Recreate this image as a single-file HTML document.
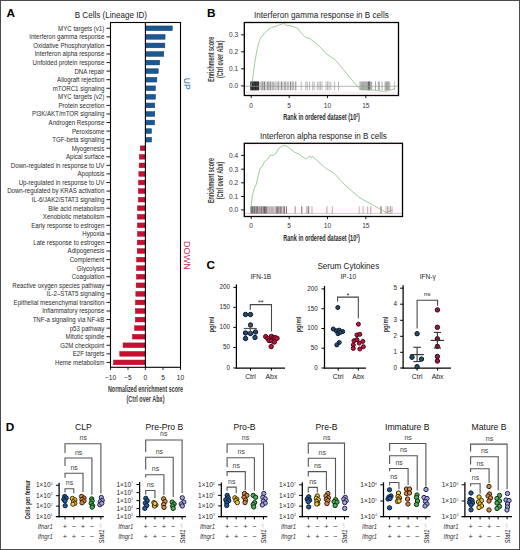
<!DOCTYPE html>
<html><head><meta charset="utf-8"><style>
html,body{margin:0;padding:0;background:#fff;overflow:hidden;}
svg{display:block;font-family:"Liberation Sans", sans-serif;}
</style></head><body>
<svg width="520" height="550" viewBox="0 0 520 550">
<rect x="0" y="0" width="520" height="550" fill="#fff"/>
<text x="6.60" y="16.80" font-size="11.8" text-anchor="start" fill="#000" font-weight="bold" >A</text>
<text x="74.70" y="17.50" font-size="8.8" text-anchor="start" fill="#1a1a1a" textLength="72.3" lengthAdjust="spacingAndGlyphs" >B Cells (Lineage ID)</text>
<rect x="145.65" y="25.95" width="26.60" height="4.70" fill="#1a5894" stroke="#0f3d6b" stroke-width="0.5"/>
<line x1="106.50" y1="28.30" x2="110.50" y2="28.30" stroke="#000" stroke-width="0.9" />
<text x="0" y="0" font-size="7" text-anchor="end" fill="#2b2b2b" transform="translate(104.3 30.70) scale(0.875 1)">MYC targets (v1)</text>
<rect x="145.65" y="34.52" width="19.40" height="4.70" fill="#1a5894" stroke="#0f3d6b" stroke-width="0.5"/>
<line x1="106.50" y1="36.87" x2="110.50" y2="36.87" stroke="#000" stroke-width="0.9" />
<text x="0" y="0" font-size="7" text-anchor="end" fill="#2b2b2b" transform="translate(104.3 39.27) scale(0.875 1)">Interferon gamma response</text>
<rect x="145.65" y="43.08" width="19.20" height="4.70" fill="#1a5894" stroke="#0f3d6b" stroke-width="0.5"/>
<line x1="106.50" y1="45.43" x2="110.50" y2="45.43" stroke="#000" stroke-width="0.9" />
<text x="0" y="0" font-size="7" text-anchor="end" fill="#2b2b2b" transform="translate(104.3 47.83) scale(0.875 1)">Oxidative Phosphorylation</text>
<rect x="145.65" y="51.65" width="18.10" height="4.70" fill="#1a5894" stroke="#0f3d6b" stroke-width="0.5"/>
<line x1="106.50" y1="54.00" x2="110.50" y2="54.00" stroke="#000" stroke-width="0.9" />
<text x="0" y="0" font-size="7" text-anchor="end" fill="#2b2b2b" transform="translate(104.3 56.40) scale(0.875 1)">Interferon alpha response</text>
<rect x="145.65" y="60.22" width="14.00" height="4.70" fill="#1a5894" stroke="#0f3d6b" stroke-width="0.5"/>
<line x1="106.50" y1="62.57" x2="110.50" y2="62.57" stroke="#000" stroke-width="0.9" />
<text x="0" y="0" font-size="7" text-anchor="end" fill="#2b2b2b" transform="translate(104.3 64.97) scale(0.875 1)">Unfolded protein response</text>
<rect x="145.65" y="68.78" width="12.60" height="4.70" fill="#1a5894" stroke="#0f3d6b" stroke-width="0.5"/>
<line x1="106.50" y1="71.13" x2="110.50" y2="71.13" stroke="#000" stroke-width="0.9" />
<text x="0" y="0" font-size="7" text-anchor="end" fill="#2b2b2b" transform="translate(104.3 73.53) scale(0.875 1)">DNA repair</text>
<rect x="145.65" y="77.35" width="11.20" height="4.70" fill="#1a5894" stroke="#0f3d6b" stroke-width="0.5"/>
<line x1="106.50" y1="79.70" x2="110.50" y2="79.70" stroke="#000" stroke-width="0.9" />
<text x="0" y="0" font-size="7" text-anchor="end" fill="#2b2b2b" transform="translate(104.3 82.10) scale(0.875 1)">Allograft rejection</text>
<rect x="145.65" y="85.92" width="9.80" height="4.70" fill="#1a5894" stroke="#0f3d6b" stroke-width="0.5"/>
<line x1="106.50" y1="88.27" x2="110.50" y2="88.27" stroke="#000" stroke-width="0.9" />
<text x="0" y="0" font-size="7" text-anchor="end" fill="#2b2b2b" transform="translate(104.3 90.67) scale(0.875 1)">mTORC1 signaling</text>
<rect x="145.65" y="94.48" width="9.80" height="4.70" fill="#1a5894" stroke="#0f3d6b" stroke-width="0.5"/>
<line x1="106.50" y1="96.83" x2="110.50" y2="96.83" stroke="#000" stroke-width="0.9" />
<text x="0" y="0" font-size="7" text-anchor="end" fill="#2b2b2b" transform="translate(104.3 99.23) scale(0.875 1)">MYC targets (v2)</text>
<rect x="145.65" y="103.05" width="9.10" height="4.70" fill="#1a5894" stroke="#0f3d6b" stroke-width="0.5"/>
<line x1="106.50" y1="105.40" x2="110.50" y2="105.40" stroke="#000" stroke-width="0.9" />
<text x="0" y="0" font-size="7" text-anchor="end" fill="#2b2b2b" transform="translate(104.3 107.80) scale(0.875 1)">Protein secretion</text>
<rect x="145.65" y="111.62" width="9.10" height="4.70" fill="#1a5894" stroke="#0f3d6b" stroke-width="0.5"/>
<line x1="106.50" y1="113.97" x2="110.50" y2="113.97" stroke="#000" stroke-width="0.9" />
<text x="0" y="0" font-size="7" text-anchor="end" fill="#2b2b2b" transform="translate(104.3 116.37) scale(0.875 1)">PI3K/AKT/mTOR signaling</text>
<rect x="145.65" y="120.18" width="8.90" height="4.70" fill="#1a5894" stroke="#0f3d6b" stroke-width="0.5"/>
<line x1="106.50" y1="122.53" x2="110.50" y2="122.53" stroke="#000" stroke-width="0.9" />
<text x="0" y="0" font-size="7" text-anchor="end" fill="#2b2b2b" transform="translate(104.3 124.93) scale(0.875 1)">Androgen Response</text>
<rect x="145.65" y="128.75" width="5.90" height="4.70" fill="#1a5894" stroke="#0f3d6b" stroke-width="0.5"/>
<line x1="106.50" y1="131.10" x2="110.50" y2="131.10" stroke="#000" stroke-width="0.9" />
<text x="0" y="0" font-size="7" text-anchor="end" fill="#2b2b2b" transform="translate(104.3 133.50) scale(0.875 1)">Peroxisome</text>
<rect x="145.65" y="137.32" width="5.90" height="4.70" fill="#1a5894" stroke="#0f3d6b" stroke-width="0.5"/>
<line x1="106.50" y1="139.67" x2="110.50" y2="139.67" stroke="#000" stroke-width="0.9" />
<text x="0" y="0" font-size="7" text-anchor="end" fill="#2b2b2b" transform="translate(104.3 142.07) scale(0.875 1)">TGF-beta signaling</text>
<rect x="140.25" y="145.88" width="4.90" height="4.70" fill="#c8102e" stroke="#a80c28" stroke-width="0.5"/>
<line x1="106.50" y1="148.23" x2="110.50" y2="148.23" stroke="#000" stroke-width="0.9" />
<text x="0" y="0" font-size="7" text-anchor="end" fill="#2b2b2b" transform="translate(104.3 150.63) scale(0.875 1)">Myogenesis</text>
<rect x="139.45" y="154.45" width="5.70" height="4.70" fill="#c8102e" stroke="#a80c28" stroke-width="0.5"/>
<line x1="106.50" y1="156.80" x2="110.50" y2="156.80" stroke="#000" stroke-width="0.9" />
<text x="0" y="0" font-size="7" text-anchor="end" fill="#2b2b2b" transform="translate(104.3 159.20) scale(0.875 1)">Apical surface</text>
<rect x="139.15" y="163.02" width="6.00" height="4.70" fill="#c8102e" stroke="#a80c28" stroke-width="0.5"/>
<line x1="106.50" y1="165.37" x2="110.50" y2="165.37" stroke="#000" stroke-width="0.9" />
<text x="0" y="0" font-size="7" text-anchor="end" fill="#2b2b2b" transform="translate(104.3 167.77) scale(0.875 1)">Down-regulated in response to UV</text>
<rect x="138.85" y="171.58" width="6.30" height="4.70" fill="#c8102e" stroke="#a80c28" stroke-width="0.5"/>
<line x1="106.50" y1="173.93" x2="110.50" y2="173.93" stroke="#000" stroke-width="0.9" />
<text x="0" y="0" font-size="7" text-anchor="end" fill="#2b2b2b" transform="translate(104.3 176.33) scale(0.875 1)">Apoptosis</text>
<rect x="138.55" y="180.15" width="6.60" height="4.70" fill="#c8102e" stroke="#a80c28" stroke-width="0.5"/>
<line x1="106.50" y1="182.50" x2="110.50" y2="182.50" stroke="#000" stroke-width="0.9" />
<text x="0" y="0" font-size="7" text-anchor="end" fill="#2b2b2b" transform="translate(104.3 184.90) scale(0.875 1)">Up-regulated in response to UV</text>
<rect x="138.35" y="188.72" width="6.80" height="4.70" fill="#c8102e" stroke="#a80c28" stroke-width="0.5"/>
<line x1="106.50" y1="191.07" x2="110.50" y2="191.07" stroke="#000" stroke-width="0.9" />
<text x="0" y="0" font-size="7" text-anchor="end" fill="#2b2b2b" transform="translate(104.3 193.47) scale(0.875 1)">Down-regulated by KRAS activation</text>
<rect x="138.35" y="197.28" width="6.80" height="4.70" fill="#c8102e" stroke="#a80c28" stroke-width="0.5"/>
<line x1="106.50" y1="199.63" x2="110.50" y2="199.63" stroke="#000" stroke-width="0.9" />
<text x="0" y="0" font-size="7" text-anchor="end" fill="#2b2b2b" transform="translate(104.3 202.03) scale(0.875 1)">IL-6/JAK2/STAT3 signaling</text>
<rect x="137.45" y="205.85" width="7.70" height="4.70" fill="#c8102e" stroke="#a80c28" stroke-width="0.5"/>
<line x1="106.50" y1="208.20" x2="110.50" y2="208.20" stroke="#000" stroke-width="0.9" />
<text x="0" y="0" font-size="7" text-anchor="end" fill="#2b2b2b" transform="translate(104.3 210.60) scale(0.875 1)">Bile acid metabolism</text>
<rect x="137.45" y="214.42" width="7.70" height="4.70" fill="#c8102e" stroke="#a80c28" stroke-width="0.5"/>
<line x1="106.50" y1="216.77" x2="110.50" y2="216.77" stroke="#000" stroke-width="0.9" />
<text x="0" y="0" font-size="7" text-anchor="end" fill="#2b2b2b" transform="translate(104.3 219.17) scale(0.875 1)">Xenobiotic metabolism</text>
<rect x="137.45" y="222.98" width="7.70" height="4.70" fill="#c8102e" stroke="#a80c28" stroke-width="0.5"/>
<line x1="106.50" y1="225.33" x2="110.50" y2="225.33" stroke="#000" stroke-width="0.9" />
<text x="0" y="0" font-size="7" text-anchor="end" fill="#2b2b2b" transform="translate(104.3 227.73) scale(0.875 1)">Early response to estrogen</text>
<rect x="137.45" y="231.55" width="7.70" height="4.70" fill="#c8102e" stroke="#a80c28" stroke-width="0.5"/>
<line x1="106.50" y1="233.90" x2="110.50" y2="233.90" stroke="#000" stroke-width="0.9" />
<text x="0" y="0" font-size="7" text-anchor="end" fill="#2b2b2b" transform="translate(104.3 236.30) scale(0.875 1)">Hypoxia</text>
<rect x="137.25" y="240.12" width="7.90" height="4.70" fill="#c8102e" stroke="#a80c28" stroke-width="0.5"/>
<line x1="106.50" y1="242.47" x2="110.50" y2="242.47" stroke="#000" stroke-width="0.9" />
<text x="0" y="0" font-size="7" text-anchor="end" fill="#2b2b2b" transform="translate(104.3 244.87) scale(0.875 1)">Late response to estrogen</text>
<rect x="137.25" y="248.68" width="7.90" height="4.70" fill="#c8102e" stroke="#a80c28" stroke-width="0.5"/>
<line x1="106.50" y1="251.03" x2="110.50" y2="251.03" stroke="#000" stroke-width="0.9" />
<text x="0" y="0" font-size="7" text-anchor="end" fill="#2b2b2b" transform="translate(104.3 253.43) scale(0.875 1)">Adipogenesis</text>
<rect x="136.65" y="257.25" width="8.50" height="4.70" fill="#c8102e" stroke="#a80c28" stroke-width="0.5"/>
<line x1="106.50" y1="259.60" x2="110.50" y2="259.60" stroke="#000" stroke-width="0.9" />
<text x="0" y="0" font-size="7" text-anchor="end" fill="#2b2b2b" transform="translate(104.3 262.00) scale(0.875 1)">Complement</text>
<rect x="136.45" y="265.82" width="8.70" height="4.70" fill="#c8102e" stroke="#a80c28" stroke-width="0.5"/>
<line x1="106.50" y1="268.17" x2="110.50" y2="268.17" stroke="#000" stroke-width="0.9" />
<text x="0" y="0" font-size="7" text-anchor="end" fill="#2b2b2b" transform="translate(104.3 270.57) scale(0.875 1)">Glycolysis</text>
<rect x="136.45" y="274.38" width="8.70" height="4.70" fill="#c8102e" stroke="#a80c28" stroke-width="0.5"/>
<line x1="106.50" y1="276.73" x2="110.50" y2="276.73" stroke="#000" stroke-width="0.9" />
<text x="0" y="0" font-size="7" text-anchor="end" fill="#2b2b2b" transform="translate(104.3 279.13) scale(0.875 1)">Coagulation</text>
<rect x="136.15" y="282.95" width="9.00" height="4.70" fill="#c8102e" stroke="#a80c28" stroke-width="0.5"/>
<line x1="106.50" y1="285.30" x2="110.50" y2="285.30" stroke="#000" stroke-width="0.9" />
<text x="0" y="0" font-size="7" text-anchor="end" fill="#2b2b2b" transform="translate(104.3 287.70) scale(0.875 1)">Reactive oxygen species pathway</text>
<rect x="135.85" y="291.52" width="9.30" height="4.70" fill="#c8102e" stroke="#a80c28" stroke-width="0.5"/>
<line x1="106.50" y1="293.87" x2="110.50" y2="293.87" stroke="#000" stroke-width="0.9" />
<text x="0" y="0" font-size="7" text-anchor="end" fill="#2b2b2b" transform="translate(104.3 296.27) scale(0.875 1)">IL-2–STAT5 signaling</text>
<rect x="135.55" y="300.08" width="9.60" height="4.70" fill="#c8102e" stroke="#a80c28" stroke-width="0.5"/>
<line x1="106.50" y1="302.43" x2="110.50" y2="302.43" stroke="#000" stroke-width="0.9" />
<text x="0" y="0" font-size="7" text-anchor="end" fill="#2b2b2b" transform="translate(104.3 304.83) scale(0.875 1)">Epithelial mesenchymal transition</text>
<rect x="135.35" y="308.65" width="9.80" height="4.70" fill="#c8102e" stroke="#a80c28" stroke-width="0.5"/>
<line x1="106.50" y1="311.00" x2="110.50" y2="311.00" stroke="#000" stroke-width="0.9" />
<text x="0" y="0" font-size="7" text-anchor="end" fill="#2b2b2b" transform="translate(104.3 313.40) scale(0.875 1)">Inflammatory response</text>
<rect x="135.35" y="317.22" width="9.80" height="4.70" fill="#c8102e" stroke="#a80c28" stroke-width="0.5"/>
<line x1="106.50" y1="319.57" x2="110.50" y2="319.57" stroke="#000" stroke-width="0.9" />
<text x="0" y="0" font-size="7" text-anchor="end" fill="#2b2b2b" transform="translate(104.3 321.97) scale(0.875 1)">TNF-a signaling via NF-kB</text>
<rect x="134.55" y="325.78" width="10.60" height="4.70" fill="#c8102e" stroke="#a80c28" stroke-width="0.5"/>
<line x1="106.50" y1="328.13" x2="110.50" y2="328.13" stroke="#000" stroke-width="0.9" />
<text x="0" y="0" font-size="7" text-anchor="end" fill="#2b2b2b" transform="translate(104.3 330.53) scale(0.875 1)">p53 pathway</text>
<rect x="132.45" y="334.35" width="12.70" height="4.70" fill="#c8102e" stroke="#a80c28" stroke-width="0.5"/>
<line x1="106.50" y1="336.70" x2="110.50" y2="336.70" stroke="#000" stroke-width="0.9" />
<text x="0" y="0" font-size="7" text-anchor="end" fill="#2b2b2b" transform="translate(104.3 339.10) scale(0.875 1)">Mitotic spindle</text>
<rect x="123.05" y="342.92" width="22.10" height="4.70" fill="#c8102e" stroke="#a80c28" stroke-width="0.5"/>
<line x1="106.50" y1="345.27" x2="110.50" y2="345.27" stroke="#000" stroke-width="0.9" />
<text x="0" y="0" font-size="7" text-anchor="end" fill="#2b2b2b" transform="translate(104.3 347.67) scale(0.875 1)">G2M checkpoint</text>
<rect x="119.75" y="351.48" width="25.40" height="4.70" fill="#c8102e" stroke="#a80c28" stroke-width="0.5"/>
<line x1="106.50" y1="353.83" x2="110.50" y2="353.83" stroke="#000" stroke-width="0.9" />
<text x="0" y="0" font-size="7" text-anchor="end" fill="#2b2b2b" transform="translate(104.3 356.23) scale(0.875 1)">E2F targets</text>
<rect x="113.55" y="360.05" width="31.60" height="4.70" fill="#c8102e" stroke="#a80c28" stroke-width="0.5"/>
<line x1="106.50" y1="362.40" x2="110.50" y2="362.40" stroke="#000" stroke-width="0.9" />
<text x="0" y="0" font-size="7" text-anchor="end" fill="#2b2b2b" transform="translate(104.3 364.80) scale(0.875 1)">Heme metabolism</text>
<rect x="110.50" y="22.50" width="70.00" height="344.80" fill="none" stroke="#000" stroke-width="1.1"/>
<line x1="145.40" y1="22.50" x2="145.40" y2="367.30" stroke="#000" stroke-width="1.1" />
<line x1="110.60" y1="367.30" x2="110.60" y2="369.90" stroke="#000" stroke-width="0.9" />
<text x="110.60" y="379.80" font-size="6.6" text-anchor="middle" fill="#1a1a1a" >−10</text>
<line x1="128.00" y1="367.30" x2="128.00" y2="369.90" stroke="#000" stroke-width="0.9" />
<text x="128.00" y="379.80" font-size="6.6" text-anchor="middle" fill="#1a1a1a" >−5</text>
<line x1="145.40" y1="367.30" x2="145.40" y2="369.90" stroke="#000" stroke-width="0.9" />
<text x="145.40" y="379.80" font-size="6.6" text-anchor="middle" fill="#1a1a1a" >0</text>
<line x1="163.00" y1="367.30" x2="163.00" y2="369.90" stroke="#000" stroke-width="0.9" />
<text x="163.00" y="379.80" font-size="6.6" text-anchor="middle" fill="#1a1a1a" >5</text>
<line x1="180.50" y1="367.30" x2="180.50" y2="369.90" stroke="#000" stroke-width="0.9" />
<text x="180.50" y="379.80" font-size="6.6" text-anchor="middle" fill="#1a1a1a" >10</text>
<text x="145.50" y="392.20" font-size="8.8" text-anchor="middle" fill="#3a3a3a" font-weight="bold" textLength="75" lengthAdjust="spacingAndGlyphs" >Normalized enrichment score</text>
<text x="145.50" y="401.60" font-size="8.8" text-anchor="middle" fill="#3a3a3a" font-weight="bold" textLength="38" lengthAdjust="spacingAndGlyphs" >(Ctrl over Abx)</text>
<text x="183.90" y="83.80" font-size="9.2" text-anchor="middle" fill="#2f6aa3" textLength="12.0" lengthAdjust="spacingAndGlyphs" transform="rotate(90 183.90 83.80)" >UP</text>
<text x="184.10" y="255.50" font-size="9.2" text-anchor="middle" fill="#c8304e" textLength="29.0" lengthAdjust="spacingAndGlyphs" transform="rotate(90 184.10 255.50)" >DOWN</text>
<text x="207.10" y="16.90" font-size="11.8" text-anchor="start" fill="#000" font-weight="bold" >B</text>
<text x="254.00" y="17.50" font-size="8.5" text-anchor="start" fill="#1a1a1a" textLength="134.8" lengthAdjust="spacingAndGlyphs" >Interferon gamma response in B cells</text>
<line x1="250.70" y1="81.50" x2="250.70" y2="90.30" stroke="#000" stroke-width="0.7" stroke-opacity="1.0"/>
<line x1="251.30" y1="81.50" x2="251.30" y2="90.30" stroke="#000" stroke-width="0.7" stroke-opacity="1.0"/>
<line x1="251.90" y1="81.50" x2="251.90" y2="90.30" stroke="#000" stroke-width="0.7" stroke-opacity="1.0"/>
<line x1="252.50" y1="81.50" x2="252.50" y2="90.30" stroke="#000" stroke-width="0.7" stroke-opacity="1.0"/>
<line x1="253.10" y1="81.50" x2="253.10" y2="90.30" stroke="#000" stroke-width="0.7" stroke-opacity="1.0"/>
<line x1="253.70" y1="81.50" x2="253.70" y2="90.30" stroke="#000" stroke-width="0.7" stroke-opacity="1.0"/>
<line x1="254.30" y1="81.50" x2="254.30" y2="90.30" stroke="#000" stroke-width="0.7" stroke-opacity="1.0"/>
<line x1="254.90" y1="81.50" x2="254.90" y2="90.30" stroke="#000" stroke-width="0.7" stroke-opacity="1.0"/>
<line x1="255.50" y1="81.50" x2="255.50" y2="90.30" stroke="#000" stroke-width="0.7" stroke-opacity="1.0"/>
<line x1="256.10" y1="81.50" x2="256.10" y2="90.30" stroke="#000" stroke-width="0.7" stroke-opacity="1.0"/>
<line x1="256.70" y1="81.50" x2="256.70" y2="90.30" stroke="#000" stroke-width="0.7" stroke-opacity="1.0"/>
<line x1="257.30" y1="81.50" x2="257.30" y2="90.30" stroke="#000" stroke-width="0.7" stroke-opacity="1.0"/>
<line x1="257.90" y1="81.50" x2="257.90" y2="90.30" stroke="#000" stroke-width="0.7" stroke-opacity="1.0"/>
<line x1="258.50" y1="81.50" x2="258.50" y2="90.30" stroke="#000" stroke-width="0.7" stroke-opacity="1.0"/>
<line x1="258.60" y1="81.50" x2="258.60" y2="90.30" stroke="#000" stroke-width="0.7" stroke-opacity="0.19377202312308306"/>
<line x1="259.47" y1="81.50" x2="259.47" y2="90.30" stroke="#000" stroke-width="0.7" stroke-opacity="0.21933223752898895"/>
<line x1="260.37" y1="81.50" x2="260.37" y2="90.30" stroke="#000" stroke-width="0.7" stroke-opacity="0.26995091632141793"/>
<line x1="261.01" y1="81.50" x2="261.01" y2="90.30" stroke="#000" stroke-width="0.7" stroke-opacity="0.14071182595861212"/>
<line x1="262.03" y1="81.50" x2="262.03" y2="90.30" stroke="#000" stroke-width="0.7" stroke-opacity="0.18883717386818868"/>
<line x1="262.74" y1="81.50" x2="262.74" y2="90.30" stroke="#000" stroke-width="0.7" stroke-opacity="0.3354075552810862"/>
<line x1="263.58" y1="81.50" x2="263.58" y2="90.30" stroke="#000" stroke-width="0.7" stroke-opacity="0.29952290999571"/>
<line x1="264.42" y1="81.50" x2="264.42" y2="90.30" stroke="#000" stroke-width="0.7" stroke-opacity="0.2569057489512767"/>
<line x1="265.09" y1="81.50" x2="265.09" y2="90.30" stroke="#000" stroke-width="0.7" stroke-opacity="0.2534411227285907"/>
<line x1="266.13" y1="81.50" x2="266.13" y2="90.30" stroke="#000" stroke-width="0.7" stroke-opacity="0.2280032490569578"/>
<line x1="267.10" y1="81.50" x2="267.10" y2="90.30" stroke="#000" stroke-width="0.7" stroke-opacity="0.25251138533993434"/>
<line x1="267.73" y1="81.50" x2="267.73" y2="90.30" stroke="#000" stroke-width="0.7" stroke-opacity="0.266193456392942"/>
<line x1="268.62" y1="81.50" x2="268.62" y2="90.30" stroke="#000" stroke-width="0.7" stroke-opacity="0.17822506098557353"/>
<line x1="269.24" y1="81.50" x2="269.24" y2="90.30" stroke="#000" stroke-width="0.7" stroke-opacity="0.2792925537389939"/>
<line x1="270.08" y1="81.50" x2="270.08" y2="90.30" stroke="#000" stroke-width="0.7" stroke-opacity="0.24907469984840633"/>
<line x1="271.11" y1="81.50" x2="271.11" y2="90.30" stroke="#000" stroke-width="0.7" stroke-opacity="0.24392513808789534"/>
<line x1="272.18" y1="81.50" x2="272.18" y2="90.30" stroke="#000" stroke-width="0.7" stroke-opacity="0.18416498376368753"/>
<line x1="273.18" y1="81.50" x2="273.18" y2="90.30" stroke="#000" stroke-width="0.7" stroke-opacity="0.18944390645780565"/>
<line x1="274.24" y1="81.50" x2="274.24" y2="90.30" stroke="#000" stroke-width="0.7" stroke-opacity="0.2585198744470971"/>
<line x1="274.89" y1="81.50" x2="274.89" y2="90.30" stroke="#000" stroke-width="0.7" stroke-opacity="0.13269399891128156"/>
<line x1="275.60" y1="81.50" x2="275.60" y2="90.30" stroke="#000" stroke-width="0.7" stroke-opacity="0.26636207785073146"/>
<line x1="276.42" y1="81.50" x2="276.42" y2="90.30" stroke="#000" stroke-width="0.7" stroke-opacity="0.2078915000223316"/>
<line x1="277.17" y1="81.50" x2="277.17" y2="90.30" stroke="#000" stroke-width="0.7" stroke-opacity="0.18605481299678425"/>
<line x1="277.96" y1="81.50" x2="277.96" y2="90.30" stroke="#000" stroke-width="0.7" stroke-opacity="0.15885681457587827"/>
<line x1="278.85" y1="81.50" x2="278.85" y2="90.30" stroke="#000" stroke-width="0.7" stroke-opacity="0.19193490469770866"/>
<line x1="279.91" y1="81.50" x2="279.91" y2="90.30" stroke="#000" stroke-width="0.7" stroke-opacity="0.20267343421274023"/>
<line x1="280.97" y1="81.50" x2="280.97" y2="90.30" stroke="#000" stroke-width="0.7" stroke-opacity="0.22402104988785146"/>
<line x1="282.07" y1="81.50" x2="282.07" y2="90.30" stroke="#000" stroke-width="0.7" stroke-opacity="0.19239443601100342"/>
<line x1="282.75" y1="81.50" x2="282.75" y2="90.30" stroke="#000" stroke-width="0.7" stroke-opacity="0.2165019829060724"/>
<line x1="283.83" y1="81.50" x2="283.83" y2="90.30" stroke="#000" stroke-width="0.7" stroke-opacity="0.2176453240957041"/>
<line x1="284.72" y1="81.50" x2="284.72" y2="90.30" stroke="#000" stroke-width="0.7" stroke-opacity="0.18754384274441088"/>
<line x1="285.42" y1="81.50" x2="285.42" y2="90.30" stroke="#000" stroke-width="0.7" stroke-opacity="0.20037479686031118"/>
<line x1="286.31" y1="81.50" x2="286.31" y2="90.30" stroke="#000" stroke-width="0.7" stroke-opacity="0.12473578173312323"/>
<line x1="286.94" y1="81.50" x2="286.94" y2="90.30" stroke="#000" stroke-width="0.7" stroke-opacity="0.19643463548668053"/>
<line x1="288.03" y1="81.50" x2="288.03" y2="90.30" stroke="#000" stroke-width="0.7" stroke-opacity="0.09507536959509368"/>
<line x1="289.03" y1="81.50" x2="289.03" y2="90.30" stroke="#000" stroke-width="0.7" stroke-opacity="0.13237471880534912"/>
<line x1="289.71" y1="81.50" x2="289.71" y2="90.30" stroke="#000" stroke-width="0.7" stroke-opacity="0.1161024351770574"/>
<line x1="290.69" y1="81.50" x2="290.69" y2="90.30" stroke="#000" stroke-width="0.7" stroke-opacity="0.18152479317302297"/>
<line x1="291.32" y1="81.50" x2="291.32" y2="90.30" stroke="#000" stroke-width="0.7" stroke-opacity="0.14868357536457488"/>
<line x1="291.94" y1="81.50" x2="291.94" y2="90.30" stroke="#000" stroke-width="0.7" stroke-opacity="0.1581555625499055"/>
<line x1="292.70" y1="81.50" x2="292.70" y2="90.30" stroke="#000" stroke-width="0.7" stroke-opacity="0.1731523767801113"/>
<line x1="293.79" y1="81.50" x2="293.79" y2="90.30" stroke="#000" stroke-width="0.7" stroke-opacity="0.1273068478542771"/>
<line x1="294.89" y1="81.50" x2="294.89" y2="90.30" stroke="#000" stroke-width="0.7" stroke-opacity="0.10282559677018183"/>
<line x1="295.53" y1="81.50" x2="295.53" y2="90.30" stroke="#000" stroke-width="0.7" stroke-opacity="0.13095172606167138"/>
<line x1="296.15" y1="81.50" x2="296.15" y2="90.30" stroke="#000" stroke-width="0.7" stroke-opacity="0.08774895782015954"/>
<line x1="262.00" y1="81.50" x2="262.00" y2="90.30" stroke="#000" stroke-width="0.7" stroke-opacity="0.5"/>
<line x1="264.50" y1="81.50" x2="264.50" y2="90.30" stroke="#000" stroke-width="0.7" stroke-opacity="0.5"/>
<line x1="268.00" y1="81.50" x2="268.00" y2="90.30" stroke="#000" stroke-width="0.7" stroke-opacity="0.5"/>
<line x1="270.60" y1="81.50" x2="270.60" y2="90.30" stroke="#000" stroke-width="0.7" stroke-opacity="0.5"/>
<line x1="273.00" y1="81.50" x2="273.00" y2="90.30" stroke="#000" stroke-width="0.7" stroke-opacity="0.5"/>
<line x1="278.30" y1="81.50" x2="278.30" y2="90.30" stroke="#000" stroke-width="0.7" stroke-opacity="0.5"/>
<line x1="281.50" y1="81.50" x2="281.50" y2="90.30" stroke="#000" stroke-width="0.7" stroke-opacity="0.5"/>
<line x1="285.00" y1="81.50" x2="285.00" y2="90.30" stroke="#000" stroke-width="0.7" stroke-opacity="0.5"/>
<line x1="288.00" y1="81.50" x2="288.00" y2="90.30" stroke="#000" stroke-width="0.7" stroke-opacity="0.5"/>
<line x1="290.50" y1="81.50" x2="290.50" y2="90.30" stroke="#000" stroke-width="0.7" stroke-opacity="0.5"/>
<line x1="293.00" y1="81.50" x2="293.00" y2="90.30" stroke="#000" stroke-width="0.7" stroke-opacity="0.5"/>
<line x1="295.80" y1="81.50" x2="295.80" y2="90.30" stroke="#000" stroke-width="0.7" stroke-opacity="0.5"/>
<line x1="301.20" y1="81.50" x2="301.20" y2="90.30" stroke="#000" stroke-width="0.7" stroke-opacity="0.4"/>
<line x1="305.80" y1="81.50" x2="305.80" y2="90.30" stroke="#000" stroke-width="0.7" stroke-opacity="0.4"/>
<line x1="307.30" y1="81.50" x2="307.30" y2="90.30" stroke="#000" stroke-width="0.7" stroke-opacity="0.4"/>
<line x1="309.60" y1="81.50" x2="309.60" y2="90.30" stroke="#000" stroke-width="0.7" stroke-opacity="0.4"/>
<line x1="312.70" y1="81.50" x2="312.70" y2="90.30" stroke="#000" stroke-width="0.7" stroke-opacity="0.4"/>
<line x1="314.20" y1="81.50" x2="314.20" y2="90.30" stroke="#000" stroke-width="0.7" stroke-opacity="0.4"/>
<line x1="317.30" y1="81.50" x2="317.30" y2="90.30" stroke="#000" stroke-width="0.7" stroke-opacity="0.4"/>
<line x1="319.00" y1="81.50" x2="319.00" y2="90.30" stroke="#000" stroke-width="0.7" stroke-opacity="0.4"/>
<line x1="320.40" y1="81.50" x2="320.40" y2="90.30" stroke="#000" stroke-width="0.7" stroke-opacity="0.4"/>
<line x1="322.00" y1="81.50" x2="322.00" y2="90.30" stroke="#000" stroke-width="0.7" stroke-opacity="0.4"/>
<line x1="326.00" y1="81.50" x2="326.00" y2="90.30" stroke="#000" stroke-width="0.7" stroke-opacity="0.4"/>
<line x1="327.50" y1="81.50" x2="327.50" y2="90.30" stroke="#000" stroke-width="0.7" stroke-opacity="0.4"/>
<line x1="329.00" y1="81.50" x2="329.00" y2="90.30" stroke="#000" stroke-width="0.7" stroke-opacity="0.4"/>
<line x1="330.80" y1="81.50" x2="330.80" y2="90.30" stroke="#000" stroke-width="0.7" stroke-opacity="0.4"/>
<line x1="334.60" y1="81.50" x2="334.60" y2="90.30" stroke="#000" stroke-width="0.7" stroke-opacity="0.4"/>
<line x1="338.50" y1="81.50" x2="338.50" y2="90.30" stroke="#000" stroke-width="0.7" stroke-opacity="0.4"/>
<line x1="359.80" y1="81.50" x2="359.80" y2="90.30" stroke="#000" stroke-width="0.7" stroke-opacity="0.32209342459346835"/>
<line x1="360.40" y1="81.50" x2="360.40" y2="90.30" stroke="#000" stroke-width="0.7" stroke-opacity="0.23123979820271295"/>
<line x1="361.00" y1="81.50" x2="361.00" y2="90.30" stroke="#000" stroke-width="0.7" stroke-opacity="0.20848716494424085"/>
<line x1="361.60" y1="81.50" x2="361.60" y2="90.30" stroke="#000" stroke-width="0.7" stroke-opacity="0.3735558067855445"/>
<line x1="362.20" y1="81.50" x2="362.20" y2="90.30" stroke="#000" stroke-width="0.7" stroke-opacity="0.26276610398321837"/>
<line x1="362.80" y1="81.50" x2="362.80" y2="90.30" stroke="#000" stroke-width="0.7" stroke-opacity="0.391731885281691"/>
<line x1="363.40" y1="81.50" x2="363.40" y2="90.30" stroke="#000" stroke-width="0.7" stroke-opacity="0.3793319282855203"/>
<line x1="364.00" y1="81.50" x2="364.00" y2="90.30" stroke="#000" stroke-width="0.7" stroke-opacity="0.27555784788243654"/>
<line x1="364.60" y1="81.50" x2="364.60" y2="90.30" stroke="#000" stroke-width="0.7" stroke-opacity="0.29208192656918097"/>
<line x1="365.20" y1="81.50" x2="365.20" y2="90.30" stroke="#000" stroke-width="0.7" stroke-opacity="0.3040145969185128"/>
<line x1="365.80" y1="81.50" x2="365.80" y2="90.30" stroke="#000" stroke-width="0.7" stroke-opacity="0.3287777436775454"/>
<line x1="366.40" y1="81.50" x2="366.40" y2="90.30" stroke="#000" stroke-width="0.7" stroke-opacity="0.3191300476803941"/>
<line x1="367.00" y1="81.50" x2="367.00" y2="90.30" stroke="#000" stroke-width="0.7" stroke-opacity="0.31185221240307814"/>
<line x1="367.60" y1="81.50" x2="367.60" y2="90.30" stroke="#000" stroke-width="0.7" stroke-opacity="0.3240252270890524"/>
<line x1="368.20" y1="81.50" x2="368.20" y2="90.30" stroke="#000" stroke-width="0.7" stroke-opacity="0.38812425108479265"/>
<line x1="368.80" y1="81.50" x2="368.80" y2="90.30" stroke="#000" stroke-width="0.7" stroke-opacity="0.30140536318913197"/>
<line x1="369.40" y1="81.50" x2="369.40" y2="90.30" stroke="#000" stroke-width="0.7" stroke-opacity="0.28623831068618655"/>
<line x1="370.00" y1="81.50" x2="370.00" y2="90.30" stroke="#000" stroke-width="0.7" stroke-opacity="0.34406225042882765"/>
<line x1="370.60" y1="81.50" x2="370.60" y2="90.30" stroke="#000" stroke-width="0.7" stroke-opacity="0.24752712389295684"/>
<line x1="371.20" y1="81.50" x2="371.20" y2="90.30" stroke="#000" stroke-width="0.7" stroke-opacity="0.2602173722348299"/>
<line x1="371.80" y1="81.50" x2="371.80" y2="90.30" stroke="#000" stroke-width="0.7" stroke-opacity="0.3955594632897271"/>
<line x1="368.50" y1="81.50" x2="368.50" y2="90.30" stroke="#000" stroke-width="0.7" stroke-opacity="0.55"/>
<line x1="369.50" y1="81.50" x2="369.50" y2="90.30" stroke="#000" stroke-width="0.7" stroke-opacity="0.55"/>
<line x1="375.50" y1="81.50" x2="375.50" y2="90.30" stroke="#000" stroke-width="0.7" stroke-opacity="0.5"/>
<line x1="378.30" y1="81.50" x2="378.30" y2="90.30" stroke="#000" stroke-width="0.7" stroke-opacity="0.45"/>
<line x1="379.30" y1="81.50" x2="379.30" y2="90.30" stroke="#000" stroke-width="0.7" stroke-opacity="0.5"/>
<line x1="382.00" y1="81.50" x2="382.00" y2="90.30" stroke="#000" stroke-width="0.7" stroke-opacity="0.45"/>
<line x1="385.00" y1="81.50" x2="385.00" y2="90.30" stroke="#000" stroke-width="0.7" stroke-opacity="0.4"/>
<line x1="385.80" y1="81.50" x2="385.80" y2="90.30" stroke="#000" stroke-width="0.7" stroke-opacity="0.4"/>
<line x1="386.60" y1="81.50" x2="386.60" y2="90.30" stroke="#000" stroke-width="0.7" stroke-opacity="0.45"/>
<line x1="387.40" y1="81.50" x2="387.40" y2="90.30" stroke="#000" stroke-width="0.7" stroke-opacity="0.4"/>
<line x1="388.20" y1="81.50" x2="388.20" y2="90.30" stroke="#000" stroke-width="0.7" stroke-opacity="0.45"/>
<line x1="389.00" y1="81.50" x2="389.00" y2="90.30" stroke="#000" stroke-width="0.7" stroke-opacity="0.4"/>
<line x1="389.80" y1="81.50" x2="389.80" y2="90.30" stroke="#000" stroke-width="0.7" stroke-opacity="0.35"/>
<line x1="394.60" y1="81.50" x2="394.60" y2="90.30" stroke="#000" stroke-width="0.7" stroke-opacity="0.35"/>
<line x1="244.30" y1="86.30" x2="398.50" y2="86.30" stroke="#999" stroke-width="0.7" />
<line x1="244.30" y1="92.80" x2="398.50" y2="92.80" stroke="#eec0c8" stroke-width="0.5" />
<path d="M251.2,85.9 L252.5,80.0 L254.8,62.0 L257.1,49.7 L259.4,40.5 L261.7,36.6 L264.8,32.8 L267.1,31.2 L268.6,28.9 L271.7,27.4 L274.8,26.6 L278.0,25.5 L282.0,24.0 L284.0,23.5 L286.0,25.2 L290.0,25.8 L292.0,26.0 L295.0,27.2 L298.0,28.6 L300.0,31.5 L305.5,37.4 L310.2,38.9 L316.3,43.5 L320.0,46.9 L326.2,53.8 L335.4,60.0 L343.1,69.2 L350.8,78.5 L356.0,85.0 L360.0,88.6 L364.0,89.6 L370.0,89.8 L376.0,90.4 L382.0,91.2 L388.0,90.8 L392.0,89.5 L395.0,88.5" stroke="#86b886" stroke-width="0.75" fill="none" />
<rect x="244.30" y="22.50" width="154.20" height="73.00" fill="none" stroke="#000" stroke-width="1.3"/>
<line x1="241.00" y1="34.85" x2="244.30" y2="34.85" stroke="#000" stroke-width="0.9" />
<text x="238.20" y="37.15" font-size="6.6" text-anchor="end" fill="#333" >0.3</text>
<line x1="241.00" y1="51.80" x2="244.30" y2="51.80" stroke="#000" stroke-width="0.9" />
<text x="238.20" y="54.10" font-size="6.6" text-anchor="end" fill="#333" >0.2</text>
<line x1="241.00" y1="68.80" x2="244.30" y2="68.80" stroke="#000" stroke-width="0.9" />
<text x="238.20" y="71.10" font-size="6.6" text-anchor="end" fill="#333" >0.1</text>
<line x1="241.00" y1="85.90" x2="244.30" y2="85.90" stroke="#000" stroke-width="0.9" />
<text x="238.20" y="88.20" font-size="6.6" text-anchor="end" fill="#333" >0.0</text>
<line x1="251.20" y1="95.50" x2="251.20" y2="98.10" stroke="#000" stroke-width="0.9" />
<text x="251.20" y="107.80" font-size="6.6" text-anchor="middle" fill="#333" >0</text>
<line x1="289.20" y1="95.50" x2="289.20" y2="98.10" stroke="#000" stroke-width="0.9" />
<text x="289.20" y="107.80" font-size="6.6" text-anchor="middle" fill="#333" >5</text>
<line x1="327.50" y1="95.50" x2="327.50" y2="98.10" stroke="#000" stroke-width="0.9" />
<text x="327.50" y="107.80" font-size="6.6" text-anchor="middle" fill="#333" >10</text>
<line x1="365.80" y1="95.50" x2="365.80" y2="98.10" stroke="#000" stroke-width="0.9" />
<text x="365.80" y="107.80" font-size="6.6" text-anchor="middle" fill="#333" >15</text>
<text x="321.50" y="119.60" font-size="8.6" text-anchor="middle" fill="#2a2a2a" font-weight="bold" textLength="76.5" lengthAdjust="spacingAndGlyphs" >Rank in ordered dataset (10<tspan font-size="4.5" dy="-2.6">3</tspan><tspan dy="2.6">)</tspan></text>
<text x="213.80" y="59.30" font-size="8.6" text-anchor="middle" fill="#3a3a3a" font-weight="bold" textLength="45.0" lengthAdjust="spacingAndGlyphs" transform="rotate(-90 213.80 59.30)" >Enrichment score</text>
<text x="223.30" y="59.30" font-size="8.6" text-anchor="middle" fill="#3a3a3a" font-weight="bold" textLength="37.5" lengthAdjust="spacingAndGlyphs" transform="rotate(-90 223.30 59.30)" >(Ctrl over Abx)</text>
<text x="260.10" y="138.50" font-size="8.5" text-anchor="start" fill="#1a1a1a" textLength="126.8" lengthAdjust="spacingAndGlyphs" >Interferon alpha response in B cells</text>
<line x1="250.80" y1="206.30" x2="250.80" y2="213.80" stroke="#000" stroke-width="0.7" stroke-opacity="0.5761897767549093"/>
<line x1="251.60" y1="206.30" x2="251.60" y2="213.80" stroke="#000" stroke-width="0.7" stroke-opacity="0.629886193040248"/>
<line x1="252.30" y1="206.30" x2="252.30" y2="213.80" stroke="#000" stroke-width="0.7" stroke-opacity="0.8121052920118647"/>
<line x1="253.20" y1="206.30" x2="253.20" y2="213.80" stroke="#000" stroke-width="0.7" stroke-opacity="0.5828250350498867"/>
<line x1="254.00" y1="206.30" x2="254.00" y2="213.80" stroke="#000" stroke-width="0.7" stroke-opacity="0.6039206365311356"/>
<line x1="254.60" y1="206.30" x2="254.60" y2="213.80" stroke="#000" stroke-width="0.7" stroke-opacity="0.6436924144249485"/>
<line x1="255.50" y1="206.30" x2="255.50" y2="213.80" stroke="#000" stroke-width="0.7" stroke-opacity="0.4423301719274383"/>
<line x1="256.30" y1="206.30" x2="256.30" y2="213.80" stroke="#000" stroke-width="0.7" stroke-opacity="0.6059543195209027"/>
<line x1="257.00" y1="206.30" x2="257.00" y2="213.80" stroke="#000" stroke-width="0.7" stroke-opacity="0.6649413601084009"/>
<line x1="257.80" y1="206.30" x2="257.80" y2="213.80" stroke="#000" stroke-width="0.7" stroke-opacity="0.7464884362599763"/>
<line x1="258.60" y1="206.30" x2="258.60" y2="213.80" stroke="#000" stroke-width="0.7" stroke-opacity="0.3970617281146092"/>
<line x1="259.50" y1="206.30" x2="259.50" y2="213.80" stroke="#000" stroke-width="0.7" stroke-opacity="0.5017006313122627"/>
<line x1="260.40" y1="206.30" x2="260.40" y2="213.80" stroke="#000" stroke-width="0.7" stroke-opacity="0.3953352687459197"/>
<line x1="261.20" y1="206.30" x2="261.20" y2="213.80" stroke="#000" stroke-width="0.7" stroke-opacity="0.7548222671835887"/>
<line x1="262.00" y1="206.30" x2="262.00" y2="213.80" stroke="#000" stroke-width="0.7" stroke-opacity="0.6967192412706196"/>
<line x1="263.00" y1="206.30" x2="263.00" y2="213.80" stroke="#000" stroke-width="0.7" stroke-opacity="0.370940168184923"/>
<line x1="263.80" y1="206.30" x2="263.80" y2="213.80" stroke="#000" stroke-width="0.7" stroke-opacity="0.8410967103993892"/>
<line x1="264.60" y1="206.30" x2="264.60" y2="213.80" stroke="#000" stroke-width="0.7" stroke-opacity="0.8323788905627834"/>
<line x1="265.50" y1="206.30" x2="265.50" y2="213.80" stroke="#000" stroke-width="0.7" stroke-opacity="0.6769612667669203"/>
<line x1="266.40" y1="206.30" x2="266.40" y2="213.80" stroke="#000" stroke-width="0.7" stroke-opacity="0.6577813522892854"/>
<line x1="267.20" y1="206.30" x2="267.20" y2="213.80" stroke="#000" stroke-width="0.7" stroke-opacity="0.4287470475700812"/>
<line x1="268.00" y1="206.30" x2="268.00" y2="213.80" stroke="#000" stroke-width="0.7" stroke-opacity="0.35750036847480243"/>
<line x1="269.20" y1="206.30" x2="269.20" y2="213.80" stroke="#000" stroke-width="0.7" stroke-opacity="0.6141906330852394"/>
<line x1="270.40" y1="206.30" x2="270.40" y2="213.80" stroke="#000" stroke-width="0.7" stroke-opacity="0.37977555258442747"/>
<line x1="271.50" y1="206.30" x2="271.50" y2="213.80" stroke="#000" stroke-width="0.7" stroke-opacity="0.44510413139896454"/>
<line x1="272.60" y1="206.30" x2="272.60" y2="213.80" stroke="#000" stroke-width="0.7" stroke-opacity="0.47097150683260736"/>
<line x1="273.60" y1="206.30" x2="273.60" y2="213.80" stroke="#000" stroke-width="0.7" stroke-opacity="0.36504129461239426"/>
<line x1="275.00" y1="206.30" x2="275.00" y2="213.80" stroke="#000" stroke-width="0.7" stroke-opacity="0.5819672306116422"/>
<line x1="276.30" y1="206.30" x2="276.30" y2="213.80" stroke="#000" stroke-width="0.7" stroke-opacity="0.5702655583283284"/>
<line x1="277.20" y1="206.30" x2="277.20" y2="213.80" stroke="#000" stroke-width="0.7" stroke-opacity="0.7712135642592659"/>
<line x1="278.00" y1="206.30" x2="278.00" y2="213.80" stroke="#000" stroke-width="0.7" stroke-opacity="0.6095620573820384"/>
<line x1="279.00" y1="206.30" x2="279.00" y2="213.80" stroke="#000" stroke-width="0.7" stroke-opacity="0.6701458539595886"/>
<line x1="280.20" y1="206.30" x2="280.20" y2="213.80" stroke="#000" stroke-width="0.7" stroke-opacity="0.5998865761033958"/>
<line x1="281.00" y1="206.30" x2="281.00" y2="213.80" stroke="#000" stroke-width="0.7" stroke-opacity="0.681224765945184"/>
<line x1="282.00" y1="206.30" x2="282.00" y2="213.80" stroke="#000" stroke-width="0.7" stroke-opacity="0.5786649407997788"/>
<line x1="283.50" y1="206.30" x2="283.50" y2="213.80" stroke="#000" stroke-width="0.7" stroke-opacity="0.4890814498319429"/>
<line x1="284.60" y1="206.30" x2="284.60" y2="213.80" stroke="#000" stroke-width="0.7" stroke-opacity="0.8488281002315421"/>
<line x1="286.50" y1="206.30" x2="286.50" y2="213.80" stroke="#000" stroke-width="0.7" stroke-opacity="0.75"/>
<line x1="295.20" y1="206.30" x2="295.20" y2="213.80" stroke="#000" stroke-width="0.7" stroke-opacity="0.6"/>
<line x1="301.50" y1="206.30" x2="301.50" y2="213.80" stroke="#000" stroke-width="0.7" stroke-opacity="0.55"/>
<line x1="302.30" y1="206.30" x2="302.30" y2="213.80" stroke="#000" stroke-width="0.7" stroke-opacity="0.3"/>
<line x1="306.50" y1="206.30" x2="306.50" y2="213.80" stroke="#000" stroke-width="0.7" stroke-opacity="0.35"/>
<line x1="308.00" y1="206.30" x2="308.00" y2="213.80" stroke="#000" stroke-width="0.7" stroke-opacity="0.65"/>
<line x1="308.80" y1="206.30" x2="308.80" y2="213.80" stroke="#000" stroke-width="0.7" stroke-opacity="0.6"/>
<line x1="312.00" y1="206.30" x2="312.00" y2="213.80" stroke="#000" stroke-width="0.7" stroke-opacity="0.45"/>
<line x1="326.90" y1="206.30" x2="326.90" y2="213.80" stroke="#000" stroke-width="0.7" stroke-opacity="0.5"/>
<line x1="332.30" y1="206.30" x2="332.30" y2="213.80" stroke="#000" stroke-width="0.7" stroke-opacity="0.45"/>
<line x1="359.20" y1="206.30" x2="359.20" y2="213.80" stroke="#000" stroke-width="0.7" stroke-opacity="0.4"/>
<line x1="363.10" y1="206.30" x2="363.10" y2="213.80" stroke="#000" stroke-width="0.7" stroke-opacity="0.45"/>
<line x1="367.70" y1="206.30" x2="367.70" y2="213.80" stroke="#000" stroke-width="0.7" stroke-opacity="0.45"/>
<line x1="370.80" y1="206.30" x2="370.80" y2="213.80" stroke="#000" stroke-width="0.7" stroke-opacity="0.5"/>
<line x1="380.50" y1="206.30" x2="380.50" y2="213.80" stroke="#000" stroke-width="0.7" stroke-opacity="0.45"/>
<line x1="381.50" y1="206.30" x2="381.50" y2="213.80" stroke="#000" stroke-width="0.7" stroke-opacity="0.45"/>
<line x1="386.00" y1="206.30" x2="386.00" y2="213.80" stroke="#000" stroke-width="0.7" stroke-opacity="0.4"/>
<line x1="387.50" y1="206.30" x2="387.50" y2="213.80" stroke="#000" stroke-width="0.7" stroke-opacity="0.45"/>
<line x1="389.00" y1="206.30" x2="389.00" y2="213.80" stroke="#000" stroke-width="0.7" stroke-opacity="0.4"/>
<line x1="390.50" y1="206.30" x2="390.50" y2="213.80" stroke="#000" stroke-width="0.7" stroke-opacity="0.45"/>
<line x1="392.00" y1="206.30" x2="392.00" y2="213.80" stroke="#000" stroke-width="0.7" stroke-opacity="0.4"/>
<line x1="244.30" y1="145.00" x2="402.50" y2="145.00" stroke="#f4d4dc" stroke-width="0.5" />
<line x1="244.30" y1="213.40" x2="402.50" y2="213.40" stroke="#e07088" stroke-width="0.5" />
<path d="M250.5,209.5 L251.2,206.2 L252.3,195.4 L254.6,187.7 L256.2,184.6 L257.7,177.7 L260.0,168.5 L262.3,166.2 L264.6,161.5 L267.7,159.2 L270.0,155.4 L273.1,155.4 L276.2,153.1 L278.5,148.5 L280.8,146.9 L283.8,145.4 L286.9,146.2 L290.8,149.2 L294.6,152.3 L298.5,153.8 L306.2,159.2 L309.2,156.2 L311.5,157.7 L312.3,156.2 L320.0,163.1 L326.2,168.5 L333.8,173.1 L346.2,186.2 L358.5,196.9 L366.2,201.5 L372.3,204.6 L380.0,209.2 L386.2,212.3 L390.0,211.0 L393.0,210.0" stroke="#86b886" stroke-width="0.75" fill="none" />
<rect x="244.30" y="143.30" width="158.20" height="73.20" fill="none" stroke="#000" stroke-width="1.3"/>
<line x1="241.00" y1="155.40" x2="244.30" y2="155.40" stroke="#000" stroke-width="0.9" />
<text x="238.20" y="157.70" font-size="6.6" text-anchor="end" fill="#333" >0.4</text>
<line x1="241.00" y1="169.20" x2="244.30" y2="169.20" stroke="#000" stroke-width="0.9" />
<text x="238.20" y="171.50" font-size="6.6" text-anchor="end" fill="#333" >0.3</text>
<line x1="241.00" y1="182.80" x2="244.30" y2="182.80" stroke="#000" stroke-width="0.9" />
<text x="238.20" y="185.10" font-size="6.6" text-anchor="end" fill="#333" >0.2</text>
<line x1="241.00" y1="196.50" x2="244.30" y2="196.50" stroke="#000" stroke-width="0.9" />
<text x="238.20" y="198.80" font-size="6.6" text-anchor="end" fill="#333" >0.1</text>
<line x1="241.00" y1="209.90" x2="244.30" y2="209.90" stroke="#000" stroke-width="0.9" />
<text x="238.20" y="212.20" font-size="6.6" text-anchor="end" fill="#333" >0.0</text>
<line x1="251.20" y1="216.50" x2="251.20" y2="219.10" stroke="#000" stroke-width="0.9" />
<text x="251.20" y="228.40" font-size="6.6" text-anchor="middle" fill="#333" >0</text>
<line x1="289.20" y1="216.50" x2="289.20" y2="219.10" stroke="#000" stroke-width="0.9" />
<text x="289.20" y="228.40" font-size="6.6" text-anchor="middle" fill="#333" >5</text>
<line x1="327.50" y1="216.50" x2="327.50" y2="219.10" stroke="#000" stroke-width="0.9" />
<text x="327.50" y="228.40" font-size="6.6" text-anchor="middle" fill="#333" >10</text>
<line x1="365.80" y1="216.50" x2="365.80" y2="219.10" stroke="#000" stroke-width="0.9" />
<text x="365.80" y="228.40" font-size="6.6" text-anchor="middle" fill="#333" >15</text>
<text x="321.50" y="241.00" font-size="8.6" text-anchor="middle" fill="#2a2a2a" font-weight="bold" textLength="76.5" lengthAdjust="spacingAndGlyphs" >Rank in ordered dataset (10<tspan font-size="4.5" dy="-2.6">3</tspan><tspan dy="2.6">)</tspan></text>
<text x="213.80" y="180.50" font-size="8.6" text-anchor="middle" fill="#3a3a3a" font-weight="bold" textLength="45.0" lengthAdjust="spacingAndGlyphs" transform="rotate(-90 213.80 180.50)" >Enrichment score</text>
<text x="223.30" y="180.50" font-size="8.6" text-anchor="middle" fill="#3a3a3a" font-weight="bold" textLength="37.5" lengthAdjust="spacingAndGlyphs" transform="rotate(-90 223.30 180.50)" >(Ctrl over Abx)</text>
<text x="206.50" y="269.30" font-size="11.8" text-anchor="start" fill="#000" font-weight="bold" >C</text>
<text x="317.40" y="269.10" font-size="8.2" text-anchor="start" fill="#1a1a1a" textLength="61.8" lengthAdjust="spacingAndGlyphs" >Serum Cytokines</text>
<text x="260.80" y="279.30" font-size="6.5" text-anchor="middle" fill="#1a1a1a" >IFN-1B</text>
<line x1="236.40" y1="284.40" x2="236.40" y2="368.60" stroke="#000" stroke-width="1.25" />
<line x1="235.80" y1="368.00" x2="285.00" y2="368.00" stroke="#000" stroke-width="1.25" />
<line x1="233.40" y1="287.40" x2="236.40" y2="287.40" stroke="#000" stroke-width="1.0" />
<text x="229.90" y="289.30" font-size="6.3" text-anchor="end" fill="#222" >200</text>
<line x1="233.40" y1="307.40" x2="236.40" y2="307.40" stroke="#000" stroke-width="1.0" />
<text x="229.90" y="309.30" font-size="6.3" text-anchor="end" fill="#222" >150</text>
<line x1="233.40" y1="327.40" x2="236.40" y2="327.40" stroke="#000" stroke-width="1.0" />
<text x="229.90" y="329.30" font-size="6.3" text-anchor="end" fill="#222" >100</text>
<line x1="233.40" y1="347.50" x2="236.40" y2="347.50" stroke="#000" stroke-width="1.0" />
<text x="229.90" y="349.40" font-size="6.3" text-anchor="end" fill="#222" >50</text>
<line x1="233.40" y1="368.00" x2="236.40" y2="368.00" stroke="#000" stroke-width="1.0" />
<text x="229.90" y="369.90" font-size="6.3" text-anchor="end" fill="#222" >0</text>
<line x1="250.50" y1="368.00" x2="250.50" y2="370.60" stroke="#000" stroke-width="1" />
<line x1="271.40" y1="368.00" x2="271.40" y2="370.60" stroke="#000" stroke-width="1" />
<text x="250.50" y="379.00" font-size="6.9" text-anchor="middle" fill="#222" >Ctrl</text>
<text x="271.40" y="379.00" font-size="6.9" text-anchor="middle" fill="#222" >Abx</text>
<text x="213.70" y="324.60" font-size="7.4" text-anchor="middle" fill="#383838" font-weight="bold" textLength="16.0" lengthAdjust="spacingAndGlyphs" transform="rotate(-90 213.70 324.60)" >pg/ml</text>
<path d="M250.3,309.8 V304.6 H271.5 V331.5" stroke="#444" stroke-width="1.05" fill="none" />
<text x="260.70" y="304.50" font-size="7.2" text-anchor="middle" fill="#222" >**</text>
<circle cx="245.50" cy="314.50" r="2.2" fill="#27496b" stroke="#08182a" stroke-width="1.0"/>
<circle cx="250.50" cy="314.50" r="2.2" fill="#27496b" stroke="#08182a" stroke-width="1.0"/>
<circle cx="245.50" cy="333.00" r="2.2" fill="#27496b" stroke="#08182a" stroke-width="1.0"/>
<circle cx="250.50" cy="333.50" r="2.2" fill="#27496b" stroke="#08182a" stroke-width="1.0"/>
<circle cx="255.50" cy="332.00" r="2.2" fill="#27496b" stroke="#08182a" stroke-width="1.0"/>
<circle cx="245.50" cy="338.50" r="2.2" fill="#27496b" stroke="#08182a" stroke-width="1.0"/>
<circle cx="255.00" cy="337.50" r="2.2" fill="#27496b" stroke="#08182a" stroke-width="1.0"/>
<circle cx="250.50" cy="325.00" r="2.2" fill="#27496b" stroke="#08182a" stroke-width="1.0"/>
<circle cx="265.70" cy="336.60" r="2.2" fill="#b8183e" stroke="#4a0414" stroke-width="1.0"/>
<circle cx="267.80" cy="338.50" r="2.2" fill="#b8183e" stroke="#4a0414" stroke-width="1.0"/>
<circle cx="269.10" cy="340.50" r="2.2" fill="#b8183e" stroke="#4a0414" stroke-width="1.0"/>
<circle cx="271.40" cy="336.40" r="2.2" fill="#b8183e" stroke="#4a0414" stroke-width="1.0"/>
<circle cx="273.20" cy="337.80" r="2.2" fill="#b8183e" stroke="#4a0414" stroke-width="1.0"/>
<circle cx="275.10" cy="337.60" r="2.2" fill="#b8183e" stroke="#4a0414" stroke-width="1.0"/>
<circle cx="277.00" cy="338.30" r="2.2" fill="#b8183e" stroke="#4a0414" stroke-width="1.0"/>
<circle cx="271.60" cy="340.80" r="2.2" fill="#b8183e" stroke="#4a0414" stroke-width="1.0"/>
<circle cx="274.30" cy="342.00" r="2.2" fill="#b8183e" stroke="#4a0414" stroke-width="1.0"/>
<circle cx="271.20" cy="346.60" r="2.2" fill="#b8183e" stroke="#4a0414" stroke-width="1.0"/>
<line x1="243.80" y1="328.50" x2="256.80" y2="328.50" stroke="#555" stroke-width="1.2" />
<line x1="250.30" y1="325.00" x2="250.30" y2="332.00" stroke="#555" stroke-width="1.1" />
<line x1="248.00" y1="325.00" x2="252.60" y2="325.00" stroke="#555" stroke-width="1.1" />
<line x1="248.00" y1="332.00" x2="252.60" y2="332.00" stroke="#555" stroke-width="1.1" />
<text x="348.30" y="279.30" font-size="6.5" text-anchor="middle" fill="#1a1a1a" >IP-10</text>
<line x1="324.50" y1="285.90" x2="324.50" y2="368.60" stroke="#000" stroke-width="1.25" />
<line x1="323.90" y1="368.00" x2="366.00" y2="368.00" stroke="#000" stroke-width="1.25" />
<line x1="321.50" y1="288.90" x2="324.50" y2="288.90" stroke="#000" stroke-width="1.0" />
<text x="317.80" y="290.80" font-size="6.3" text-anchor="end" fill="#222" >200</text>
<line x1="321.50" y1="308.70" x2="324.50" y2="308.70" stroke="#000" stroke-width="1.0" />
<text x="317.80" y="310.60" font-size="6.3" text-anchor="end" fill="#222" >150</text>
<line x1="321.50" y1="328.50" x2="324.50" y2="328.50" stroke="#000" stroke-width="1.0" />
<text x="317.80" y="330.40" font-size="6.3" text-anchor="end" fill="#222" >100</text>
<line x1="321.50" y1="348.20" x2="324.50" y2="348.20" stroke="#000" stroke-width="1.0" />
<text x="317.80" y="350.10" font-size="6.3" text-anchor="end" fill="#222" >50</text>
<line x1="321.50" y1="368.00" x2="324.50" y2="368.00" stroke="#000" stroke-width="1.0" />
<text x="317.80" y="369.90" font-size="6.3" text-anchor="end" fill="#222" >0</text>
<line x1="338.20" y1="368.00" x2="338.20" y2="370.60" stroke="#000" stroke-width="1" />
<line x1="358.30" y1="368.00" x2="358.30" y2="370.60" stroke="#000" stroke-width="1" />
<text x="338.20" y="379.00" font-size="6.9" text-anchor="middle" fill="#222" >Ctrl</text>
<text x="358.30" y="379.00" font-size="6.9" text-anchor="middle" fill="#222" >Abx</text>
<text x="301.40" y="324.60" font-size="7.4" text-anchor="middle" fill="#383838" font-weight="bold" textLength="16.0" lengthAdjust="spacingAndGlyphs" transform="rotate(-90 301.40 324.60)" >pg/ml</text>
<path d="M337.6,301.4 V297.1 H358.3 V318.3" stroke="#444" stroke-width="1.05" fill="none" />
<text x="348.00" y="297.80" font-size="7.2" text-anchor="middle" fill="#222" >*</text>
<circle cx="337.80" cy="307.50" r="2.0" fill="#27496b" stroke="#08182a" stroke-width="1.0"/>
<circle cx="333.30" cy="329.00" r="2.0" fill="#27496b" stroke="#08182a" stroke-width="1.0"/>
<circle cx="336.20" cy="330.70" r="2.0" fill="#27496b" stroke="#08182a" stroke-width="1.0"/>
<circle cx="339.20" cy="330.10" r="2.0" fill="#27496b" stroke="#08182a" stroke-width="1.0"/>
<circle cx="342.70" cy="331.60" r="2.0" fill="#27496b" stroke="#08182a" stroke-width="1.0"/>
<circle cx="338.00" cy="333.70" r="2.0" fill="#27496b" stroke="#08182a" stroke-width="1.0"/>
<circle cx="340.30" cy="332.50" r="2.0" fill="#27496b" stroke="#08182a" stroke-width="1.0"/>
<circle cx="339.20" cy="342.50" r="2.0" fill="#27496b" stroke="#08182a" stroke-width="1.0"/>
<circle cx="336.80" cy="344.90" r="2.0" fill="#27496b" stroke="#08182a" stroke-width="1.0"/>
<circle cx="358.40" cy="324.20" r="2.0" fill="#b8183e" stroke="#4a0414" stroke-width="1.0"/>
<circle cx="356.90" cy="334.90" r="2.0" fill="#b8183e" stroke="#4a0414" stroke-width="1.0"/>
<circle cx="359.80" cy="334.30" r="2.0" fill="#b8183e" stroke="#4a0414" stroke-width="1.0"/>
<circle cx="353.90" cy="340.80" r="2.0" fill="#b8183e" stroke="#4a0414" stroke-width="1.0"/>
<circle cx="356.90" cy="339.60" r="2.0" fill="#b8183e" stroke="#4a0414" stroke-width="1.0"/>
<circle cx="362.80" cy="341.40" r="2.0" fill="#b8183e" stroke="#4a0414" stroke-width="1.0"/>
<circle cx="353.30" cy="344.90" r="2.0" fill="#b8183e" stroke="#4a0414" stroke-width="1.0"/>
<circle cx="359.20" cy="343.10" r="2.0" fill="#b8183e" stroke="#4a0414" stroke-width="1.0"/>
<circle cx="363.40" cy="346.70" r="2.0" fill="#b8183e" stroke="#4a0414" stroke-width="1.0"/>
<circle cx="353.30" cy="348.40" r="2.0" fill="#b8183e" stroke="#4a0414" stroke-width="1.0"/>
<circle cx="359.80" cy="349.00" r="2.0" fill="#b8183e" stroke="#4a0414" stroke-width="1.0"/>
<text x="427.70" y="279.30" font-size="6.5" text-anchor="middle" fill="#1a1a1a" >IFN-γ</text>
<line x1="403.10" y1="285.20" x2="403.10" y2="368.60" stroke="#000" stroke-width="1.25" />
<line x1="402.50" y1="368.00" x2="451.00" y2="368.00" stroke="#000" stroke-width="1.25" />
<line x1="400.10" y1="288.20" x2="403.10" y2="288.20" stroke="#000" stroke-width="1.0" />
<text x="396.90" y="290.10" font-size="6.3" text-anchor="end" fill="#222" >5</text>
<line x1="400.10" y1="304.20" x2="403.10" y2="304.20" stroke="#000" stroke-width="1.0" />
<text x="396.90" y="306.10" font-size="6.3" text-anchor="end" fill="#222" >4</text>
<line x1="400.10" y1="320.30" x2="403.10" y2="320.30" stroke="#000" stroke-width="1.0" />
<text x="396.90" y="322.20" font-size="6.3" text-anchor="end" fill="#222" >3</text>
<line x1="400.10" y1="336.30" x2="403.10" y2="336.30" stroke="#000" stroke-width="1.0" />
<text x="396.90" y="338.20" font-size="6.3" text-anchor="end" fill="#222" >2</text>
<line x1="400.10" y1="352.30" x2="403.10" y2="352.30" stroke="#000" stroke-width="1.0" />
<text x="396.90" y="354.20" font-size="6.3" text-anchor="end" fill="#222" >1</text>
<line x1="400.10" y1="368.00" x2="403.10" y2="368.00" stroke="#000" stroke-width="1.0" />
<text x="396.90" y="369.90" font-size="6.3" text-anchor="end" fill="#222" >0</text>
<line x1="417.10" y1="368.00" x2="417.10" y2="370.60" stroke="#000" stroke-width="1" />
<line x1="437.60" y1="368.00" x2="437.60" y2="370.60" stroke="#000" stroke-width="1" />
<text x="417.10" y="379.00" font-size="6.9" text-anchor="middle" fill="#222" >Ctrl</text>
<text x="437.60" y="379.00" font-size="6.9" text-anchor="middle" fill="#222" >Abx</text>
<text x="388.10" y="324.60" font-size="7.4" text-anchor="middle" fill="#383838" font-weight="bold" textLength="16.0" lengthAdjust="spacingAndGlyphs" transform="rotate(-90 388.10 324.60)" >pg/ml</text>
<path d="M417.1,328.6 V300.3 H437.6 V305.7" stroke="#444" stroke-width="1.05" fill="none" />
<text x="427.30" y="296.30" font-size="6.1" text-anchor="middle" fill="#222" >ns</text>
<circle cx="417.10" cy="333.70" r="2.2" fill="#27496b" stroke="#08182a" stroke-width="1.0"/>
<circle cx="412.00" cy="357.20" r="2.2" fill="#27496b" stroke="#08182a" stroke-width="1.0"/>
<circle cx="421.50" cy="359.10" r="2.2" fill="#27496b" stroke="#08182a" stroke-width="1.0"/>
<circle cx="417.10" cy="366.70" r="2.2" fill="#27496b" stroke="#08182a" stroke-width="1.0"/>
<circle cx="437.40" cy="309.90" r="2.2" fill="#932040" stroke="#3a0410" stroke-width="1.0"/>
<circle cx="437.40" cy="327.30" r="2.2" fill="#932040" stroke="#3a0410" stroke-width="1.0"/>
<circle cx="437.40" cy="338.80" r="2.2" fill="#932040" stroke="#3a0410" stroke-width="1.0"/>
<circle cx="437.40" cy="346.40" r="2.2" fill="#932040" stroke="#3a0410" stroke-width="1.0"/>
<circle cx="437.40" cy="356.50" r="2.2" fill="#932040" stroke="#3a0410" stroke-width="1.0"/>
<circle cx="437.40" cy="361.00" r="2.2" fill="#932040" stroke="#3a0410" stroke-width="1.0"/>
<line x1="410.30" y1="354.60" x2="423.90" y2="354.60" stroke="#333" stroke-width="1.2" />
<line x1="417.10" y1="347.30" x2="417.10" y2="361.60" stroke="#333" stroke-width="1.1" />
<line x1="413.30" y1="347.30" x2="420.90" y2="347.30" stroke="#333" stroke-width="1.1" />
<line x1="413.30" y1="361.60" x2="420.90" y2="361.60" stroke="#333" stroke-width="1.1" />
<line x1="430.70" y1="340.40" x2="444.10" y2="340.40" stroke="#333" stroke-width="1.2" />
<line x1="437.40" y1="332.40" x2="437.40" y2="348.00" stroke="#333" stroke-width="1.1" />
<line x1="433.80" y1="332.40" x2="441.00" y2="332.40" stroke="#333" stroke-width="1.1" />
<line x1="433.80" y1="348.00" x2="441.00" y2="348.00" stroke="#333" stroke-width="1.1" />
<text x="5.80" y="431.20" font-size="11.8" text-anchor="start" fill="#000" font-weight="bold" >D</text>
<text x="83.30" y="430.10" font-size="8.6" text-anchor="middle" fill="#111" >CLP</text>
<line x1="59.10" y1="482.80" x2="59.10" y2="517.20" stroke="#000" stroke-width="1.25" />
<line x1="55.90" y1="516.60" x2="103.80" y2="516.60" stroke="#000" stroke-width="1.25" />
<line x1="55.90" y1="485.30" x2="59.10" y2="485.30" stroke="#000" stroke-width="1.0" />
<text x="52.70" y="487.40" font-size="6.5" text-anchor="end" fill="#222">1×10<tspan font-size="3.8" dy="-2.4" fill="#666">4</tspan></text>
<line x1="55.90" y1="495.70" x2="59.10" y2="495.70" stroke="#000" stroke-width="1.0" />
<text x="52.70" y="497.80" font-size="6.5" text-anchor="end" fill="#222">1×10<tspan font-size="3.8" dy="-2.4" fill="#666">3</tspan></text>
<line x1="55.90" y1="506.10" x2="59.10" y2="506.10" stroke="#000" stroke-width="1.0" />
<text x="52.70" y="508.20" font-size="6.5" text-anchor="end" fill="#222">1×10<tspan font-size="3.8" dy="-2.4" fill="#666">2</tspan></text>
<line x1="55.90" y1="516.60" x2="59.10" y2="516.60" stroke="#000" stroke-width="1.0" />
<text x="52.70" y="518.70" font-size="6.5" text-anchor="end" fill="#222">1×10<tspan font-size="3.8" dy="-2.4" fill="#666">1</tspan></text>
<line x1="65.00" y1="516.60" x2="65.00" y2="519.40" stroke="#000" stroke-width="1.0" />
<line x1="73.80" y1="516.60" x2="73.80" y2="519.40" stroke="#000" stroke-width="1.0" />
<line x1="83.00" y1="516.60" x2="83.00" y2="519.40" stroke="#000" stroke-width="1.0" />
<line x1="91.90" y1="516.60" x2="91.90" y2="519.40" stroke="#000" stroke-width="1.0" />
<line x1="100.90" y1="516.60" x2="100.90" y2="519.40" stroke="#000" stroke-width="1.0" />
<path d="M65.00,453.00 V443.80 H100.90 V493.40" stroke="#555" stroke-width="1.1" fill="none" />
<text x="83.20" y="440.20" font-size="7.0" text-anchor="middle" fill="#444" >ns</text>
<path d="M65.00,466.00 V458.00 H91.90 V494.80" stroke="#555" stroke-width="1.1" fill="none" />
<text x="78.60" y="454.80" font-size="7.0" text-anchor="middle" fill="#444" >ns</text>
<path d="M65.00,477.80 V473.20 H83.00 V492.30" stroke="#555" stroke-width="1.1" fill="none" />
<text x="74.10" y="470.40" font-size="7.0" text-anchor="middle" fill="#444" >ns</text>
<path d="M65.00,492.60 V488.70 H73.80 V493.20" stroke="#555" stroke-width="1.1" fill="none" />
<text x="69.50" y="485.20" font-size="7.0" text-anchor="middle" fill="#444" >ns</text>
<circle cx="64.70" cy="496.50" r="2.15" fill="#245a92" stroke="#0a1e36" stroke-width="1.0"/>
<circle cx="66.20" cy="498.00" r="2.15" fill="#245a92" stroke="#0a1e36" stroke-width="1.0"/>
<circle cx="63.80" cy="499.40" r="2.15" fill="#245a92" stroke="#0a1e36" stroke-width="1.0"/>
<circle cx="64.90" cy="500.90" r="2.15" fill="#245a92" stroke="#0a1e36" stroke-width="1.0"/>
<circle cx="65.20" cy="505.70" r="2.15" fill="#245a92" stroke="#0a1e36" stroke-width="1.0"/>
<circle cx="72.40" cy="498.50" r="2.15" fill="#f5c940" stroke="#3a2c06" stroke-width="1.0"/>
<circle cx="74.80" cy="499.90" r="2.15" fill="#f5c940" stroke="#3a2c06" stroke-width="1.0"/>
<circle cx="73.40" cy="501.80" r="2.15" fill="#f5c940" stroke="#3a2c06" stroke-width="1.0"/>
<circle cx="74.80" cy="503.30" r="2.15" fill="#f5c940" stroke="#3a2c06" stroke-width="1.0"/>
<circle cx="72.90" cy="504.20" r="2.15" fill="#f5c940" stroke="#3a2c06" stroke-width="1.0"/>
<circle cx="81.60" cy="496.50" r="2.15" fill="#cf8a4c" stroke="#3a1e08" stroke-width="1.0"/>
<circle cx="84.00" cy="498.00" r="2.15" fill="#cf8a4c" stroke="#3a1e08" stroke-width="1.0"/>
<circle cx="82.00" cy="499.40" r="2.15" fill="#cf8a4c" stroke="#3a1e08" stroke-width="1.0"/>
<circle cx="84.00" cy="500.90" r="2.15" fill="#cf8a4c" stroke="#3a1e08" stroke-width="1.0"/>
<circle cx="82.00" cy="502.80" r="2.15" fill="#cf8a4c" stroke="#3a1e08" stroke-width="1.0"/>
<circle cx="91.70" cy="498.90" r="2.15" fill="#4cb05a" stroke="#0a2e10" stroke-width="1.0"/>
<circle cx="92.10" cy="500.90" r="2.15" fill="#4cb05a" stroke="#0a2e10" stroke-width="1.0"/>
<circle cx="91.20" cy="503.30" r="2.15" fill="#4cb05a" stroke="#0a2e10" stroke-width="1.0"/>
<circle cx="92.60" cy="505.70" r="2.15" fill="#4cb05a" stroke="#0a2e10" stroke-width="1.0"/>
<circle cx="92.10" cy="507.10" r="2.15" fill="#4cb05a" stroke="#0a2e10" stroke-width="1.0"/>
<circle cx="101.30" cy="497.50" r="2.15" fill="#a4a4da" stroke="#20204a" stroke-width="1.0"/>
<circle cx="102.20" cy="500.40" r="2.15" fill="#a4a4da" stroke="#20204a" stroke-width="1.0"/>
<circle cx="100.30" cy="501.80" r="2.15" fill="#a4a4da" stroke="#20204a" stroke-width="1.0"/>
<circle cx="99.80" cy="504.70" r="2.15" fill="#a4a4da" stroke="#20204a" stroke-width="1.0"/>
<circle cx="101.80" cy="503.30" r="2.15" fill="#a4a4da" stroke="#20204a" stroke-width="1.0"/>
<text x="65.00" y="528.70" font-size="7.4" text-anchor="middle" fill="#333" >+</text>
<text x="65.00" y="538.70" font-size="7.4" text-anchor="middle" fill="#333" >+</text>
<text x="73.80" y="528.70" font-size="7.4" text-anchor="middle" fill="#333" >−</text>
<text x="73.80" y="538.70" font-size="7.4" text-anchor="middle" fill="#333" >+</text>
<text x="83.00" y="528.70" font-size="7.4" text-anchor="middle" fill="#333" >+</text>
<text x="83.00" y="538.70" font-size="7.4" text-anchor="middle" fill="#333" >−</text>
<text x="91.90" y="528.70" font-size="7.4" text-anchor="middle" fill="#333" >−</text>
<text x="91.90" y="538.70" font-size="7.4" text-anchor="middle" fill="#333" >−</text>
<text x="103.80" y="543.5" font-size="6.5" fill="#111" font-style="italic" textLength="14.2" lengthAdjust="spacingAndGlyphs" transform="rotate(-90 103.80 543.5)">Stat1</text>
<text x="101.60" y="528.4" font-size="3.8" fill="#777" transform="rotate(-90 101.60 528.4)">−/−</text>
<text x="52.70" y="528.70" font-size="6.4" text-anchor="end" fill="#333" textLength="15.0" lengthAdjust="spacingAndGlyphs" font-style="italic" >Ifnar1</text>
<text x="52.70" y="538.70" font-size="6.4" text-anchor="end" fill="#333" textLength="15.0" lengthAdjust="spacingAndGlyphs" font-style="italic" >Ifngr1</text>
<text x="164.40" y="430.10" font-size="8.6" text-anchor="middle" fill="#111" >Pre-Pro B</text>
<line x1="139.60" y1="482.00" x2="139.60" y2="517.20" stroke="#000" stroke-width="1.25" />
<line x1="136.40" y1="516.60" x2="186.00" y2="516.60" stroke="#000" stroke-width="1.25" />
<line x1="136.40" y1="484.50" x2="139.60" y2="484.50" stroke="#000" stroke-width="1.0" />
<text x="133.20" y="486.60" font-size="6.5" text-anchor="end" fill="#222">1×10<tspan font-size="3.8" dy="-2.4" fill="#666">7</tspan></text>
<line x1="136.40" y1="492.60" x2="139.60" y2="492.60" stroke="#000" stroke-width="1.0" />
<text x="133.20" y="494.70" font-size="6.5" text-anchor="end" fill="#222">1×10<tspan font-size="3.8" dy="-2.4" fill="#666">6</tspan></text>
<line x1="136.40" y1="500.60" x2="139.60" y2="500.60" stroke="#000" stroke-width="1.0" />
<text x="133.20" y="502.70" font-size="6.5" text-anchor="end" fill="#222">1×10<tspan font-size="3.8" dy="-2.4" fill="#666">5</tspan></text>
<line x1="136.40" y1="508.60" x2="139.60" y2="508.60" stroke="#000" stroke-width="1.0" />
<text x="133.20" y="510.70" font-size="6.5" text-anchor="end" fill="#222">1×10<tspan font-size="3.8" dy="-2.4" fill="#666">4</tspan></text>
<line x1="136.40" y1="516.60" x2="139.60" y2="516.60" stroke="#000" stroke-width="1.0" />
<text x="133.20" y="518.70" font-size="6.5" text-anchor="end" fill="#222">1×10<tspan font-size="3.8" dy="-2.4" fill="#666">3</tspan></text>
<line x1="145.70" y1="516.60" x2="145.70" y2="519.40" stroke="#000" stroke-width="1.0" />
<line x1="154.90" y1="516.60" x2="154.90" y2="519.40" stroke="#000" stroke-width="1.0" />
<line x1="163.90" y1="516.60" x2="163.90" y2="519.40" stroke="#000" stroke-width="1.0" />
<line x1="173.20" y1="516.60" x2="173.20" y2="519.40" stroke="#000" stroke-width="1.0" />
<line x1="182.10" y1="516.60" x2="182.10" y2="519.40" stroke="#000" stroke-width="1.0" />
<path d="M145.70,452.10 V440.00 H182.10 V493.00" stroke="#555" stroke-width="1.1" fill="none" />
<text x="163.80" y="436.40" font-size="7.0" text-anchor="middle" fill="#444" >ns</text>
<path d="M145.70,469.50 V457.30 H173.20 V497.00" stroke="#555" stroke-width="1.1" fill="none" />
<text x="159.40" y="453.80" font-size="7.0" text-anchor="middle" fill="#444" >ns</text>
<path d="M145.70,477.50 V474.70 H163.90 V494.90" stroke="#555" stroke-width="1.1" fill="none" />
<text x="155.50" y="470.80" font-size="7.0" text-anchor="middle" fill="#444" >ns</text>
<path d="M145.70,494.40 V490.50 H154.90 V498.30" stroke="#555" stroke-width="1.1" fill="none" />
<text x="150.40" y="486.60" font-size="7.0" text-anchor="middle" fill="#444" >ns</text>
<circle cx="145.80" cy="498.30" r="2.15" fill="#245a92" stroke="#0a1e36" stroke-width="1.0"/>
<circle cx="147.20" cy="500.70" r="2.15" fill="#245a92" stroke="#0a1e36" stroke-width="1.0"/>
<circle cx="145.30" cy="503.10" r="2.15" fill="#245a92" stroke="#0a1e36" stroke-width="1.0"/>
<circle cx="146.70" cy="505.50" r="2.15" fill="#245a92" stroke="#0a1e36" stroke-width="1.0"/>
<circle cx="144.80" cy="508.40" r="2.15" fill="#245a92" stroke="#0a1e36" stroke-width="1.0"/>
<circle cx="153.90" cy="502.60" r="2.15" fill="#f5c940" stroke="#3a2c06" stroke-width="1.0"/>
<circle cx="155.90" cy="505.00" r="2.15" fill="#f5c940" stroke="#3a2c06" stroke-width="1.0"/>
<circle cx="154.40" cy="506.00" r="2.15" fill="#f5c940" stroke="#3a2c06" stroke-width="1.0"/>
<circle cx="154.90" cy="503.50" r="2.15" fill="#f5c940" stroke="#3a2c06" stroke-width="1.0"/>
<circle cx="163.60" cy="498.80" r="2.15" fill="#cf8a4c" stroke="#3a1e08" stroke-width="1.0"/>
<circle cx="165.00" cy="501.60" r="2.15" fill="#cf8a4c" stroke="#3a1e08" stroke-width="1.0"/>
<circle cx="163.60" cy="504.50" r="2.15" fill="#cf8a4c" stroke="#3a1e08" stroke-width="1.0"/>
<circle cx="164.00" cy="507.40" r="2.15" fill="#cf8a4c" stroke="#3a1e08" stroke-width="1.0"/>
<circle cx="172.20" cy="502.10" r="2.15" fill="#4cb05a" stroke="#0a2e10" stroke-width="1.0"/>
<circle cx="174.10" cy="504.00" r="2.15" fill="#4cb05a" stroke="#0a2e10" stroke-width="1.0"/>
<circle cx="172.70" cy="506.00" r="2.15" fill="#4cb05a" stroke="#0a2e10" stroke-width="1.0"/>
<circle cx="173.20" cy="508.40" r="2.15" fill="#4cb05a" stroke="#0a2e10" stroke-width="1.0"/>
<circle cx="182.30" cy="497.80" r="2.15" fill="#a4a4da" stroke="#20204a" stroke-width="1.0"/>
<circle cx="183.80" cy="502.10" r="2.15" fill="#a4a4da" stroke="#20204a" stroke-width="1.0"/>
<circle cx="181.30" cy="504.00" r="2.15" fill="#a4a4da" stroke="#20204a" stroke-width="1.0"/>
<circle cx="182.30" cy="506.00" r="2.15" fill="#a4a4da" stroke="#20204a" stroke-width="1.0"/>
<text x="145.70" y="528.70" font-size="7.4" text-anchor="middle" fill="#333" >+</text>
<text x="145.70" y="538.70" font-size="7.4" text-anchor="middle" fill="#333" >+</text>
<text x="154.90" y="528.70" font-size="7.4" text-anchor="middle" fill="#333" >−</text>
<text x="154.90" y="538.70" font-size="7.4" text-anchor="middle" fill="#333" >+</text>
<text x="163.90" y="528.70" font-size="7.4" text-anchor="middle" fill="#333" >+</text>
<text x="163.90" y="538.70" font-size="7.4" text-anchor="middle" fill="#333" >−</text>
<text x="173.20" y="528.70" font-size="7.4" text-anchor="middle" fill="#333" >−</text>
<text x="173.20" y="538.70" font-size="7.4" text-anchor="middle" fill="#333" >−</text>
<text x="185.00" y="543.5" font-size="6.5" fill="#111" font-style="italic" textLength="14.2" lengthAdjust="spacingAndGlyphs" transform="rotate(-90 185.00 543.5)">Stat1</text>
<text x="182.80" y="528.4" font-size="3.8" fill="#777" transform="rotate(-90 182.80 528.4)">−/−</text>
<text x="133.20" y="528.70" font-size="6.4" text-anchor="end" fill="#333" textLength="15.0" lengthAdjust="spacingAndGlyphs" font-style="italic" >Ifnar1</text>
<text x="133.20" y="538.70" font-size="6.4" text-anchor="end" fill="#333" textLength="15.0" lengthAdjust="spacingAndGlyphs" font-style="italic" >Ifngr1</text>
<text x="244.50" y="430.10" font-size="8.6" text-anchor="middle" fill="#111" >Pro-B</text>
<line x1="221.30" y1="482.40" x2="221.30" y2="517.20" stroke="#000" stroke-width="1.25" />
<line x1="218.10" y1="516.60" x2="267.30" y2="516.60" stroke="#000" stroke-width="1.25" />
<line x1="218.10" y1="484.90" x2="221.30" y2="484.90" stroke="#000" stroke-width="1.0" />
<text x="214.90" y="487.00" font-size="6.5" text-anchor="end" fill="#222">1×10<tspan font-size="3.8" dy="-2.4" fill="#666">6</tspan></text>
<line x1="218.10" y1="495.40" x2="221.30" y2="495.40" stroke="#000" stroke-width="1.0" />
<text x="214.90" y="497.50" font-size="6.5" text-anchor="end" fill="#222">1×10<tspan font-size="3.8" dy="-2.4" fill="#666">5</tspan></text>
<line x1="218.10" y1="505.90" x2="221.30" y2="505.90" stroke="#000" stroke-width="1.0" />
<text x="214.90" y="508.00" font-size="6.5" text-anchor="end" fill="#222">1×10<tspan font-size="3.8" dy="-2.4" fill="#666">4</tspan></text>
<line x1="218.10" y1="516.60" x2="221.30" y2="516.60" stroke="#000" stroke-width="1.0" />
<text x="214.90" y="518.70" font-size="6.5" text-anchor="end" fill="#222">1×10<tspan font-size="3.8" dy="-2.4" fill="#666">3</tspan></text>
<line x1="227.10" y1="516.60" x2="227.10" y2="519.40" stroke="#000" stroke-width="1.0" />
<line x1="236.20" y1="516.60" x2="236.20" y2="519.40" stroke="#000" stroke-width="1.0" />
<line x1="245.30" y1="516.60" x2="245.30" y2="519.40" stroke="#000" stroke-width="1.0" />
<line x1="254.40" y1="516.60" x2="254.40" y2="519.40" stroke="#000" stroke-width="1.0" />
<line x1="263.50" y1="516.60" x2="263.50" y2="519.40" stroke="#000" stroke-width="1.0" />
<path d="M227.10,453.00 V444.00 H263.50 V490.20" stroke="#555" stroke-width="1.1" fill="none" />
<text x="245.50" y="440.20" font-size="7.0" text-anchor="middle" fill="#444" >ns</text>
<path d="M227.10,467.30 V457.70 H254.40 V490.80" stroke="#555" stroke-width="1.1" fill="none" />
<text x="241.20" y="454.20" font-size="7.0" text-anchor="middle" fill="#444" >ns</text>
<path d="M227.10,475.90 V471.60 H245.30 V490.20" stroke="#555" stroke-width="1.1" fill="none" />
<text x="236.20" y="468.00" font-size="7.0" text-anchor="middle" fill="#444" >ns</text>
<path d="M227.10,490.80 V487.10 H236.20 V493.30" stroke="#555" stroke-width="1.1" fill="none" />
<text x="231.70" y="483.50" font-size="7.0" text-anchor="middle" fill="#444" >ns</text>
<circle cx="227.20" cy="495.40" r="2.15" fill="#245a92" stroke="#0a1e36" stroke-width="1.0"/>
<circle cx="228.20" cy="497.80" r="2.15" fill="#245a92" stroke="#0a1e36" stroke-width="1.0"/>
<circle cx="225.80" cy="499.70" r="2.15" fill="#245a92" stroke="#0a1e36" stroke-width="1.0"/>
<circle cx="228.70" cy="500.70" r="2.15" fill="#245a92" stroke="#0a1e36" stroke-width="1.0"/>
<circle cx="226.70" cy="502.60" r="2.15" fill="#245a92" stroke="#0a1e36" stroke-width="1.0"/>
<circle cx="226.70" cy="505.50" r="2.15" fill="#245a92" stroke="#0a1e36" stroke-width="1.0"/>
<circle cx="234.90" cy="497.80" r="2.15" fill="#f5c940" stroke="#3a2c06" stroke-width="1.0"/>
<circle cx="236.80" cy="499.20" r="2.15" fill="#f5c940" stroke="#3a2c06" stroke-width="1.0"/>
<circle cx="235.90" cy="500.70" r="2.15" fill="#f5c940" stroke="#3a2c06" stroke-width="1.0"/>
<circle cx="237.30" cy="502.60" r="2.15" fill="#f5c940" stroke="#3a2c06" stroke-width="1.0"/>
<circle cx="244.50" cy="493.50" r="2.15" fill="#cf8a4c" stroke="#3a1e08" stroke-width="1.0"/>
<circle cx="246.90" cy="495.40" r="2.15" fill="#cf8a4c" stroke="#3a1e08" stroke-width="1.0"/>
<circle cx="244.00" cy="497.30" r="2.15" fill="#cf8a4c" stroke="#3a1e08" stroke-width="1.0"/>
<circle cx="245.50" cy="500.20" r="2.15" fill="#cf8a4c" stroke="#3a1e08" stroke-width="1.0"/>
<circle cx="245.00" cy="502.60" r="2.15" fill="#cf8a4c" stroke="#3a1e08" stroke-width="1.0"/>
<circle cx="253.20" cy="495.40" r="2.15" fill="#4cb05a" stroke="#0a2e10" stroke-width="1.0"/>
<circle cx="255.60" cy="497.30" r="2.15" fill="#4cb05a" stroke="#0a2e10" stroke-width="1.0"/>
<circle cx="254.60" cy="502.60" r="2.15" fill="#4cb05a" stroke="#0a2e10" stroke-width="1.0"/>
<circle cx="253.20" cy="504.50" r="2.15" fill="#4cb05a" stroke="#0a2e10" stroke-width="1.0"/>
<circle cx="253.70" cy="506.90" r="2.15" fill="#4cb05a" stroke="#0a2e10" stroke-width="1.0"/>
<circle cx="263.80" cy="493.50" r="2.15" fill="#a4a4da" stroke="#20204a" stroke-width="1.0"/>
<circle cx="262.80" cy="497.30" r="2.15" fill="#a4a4da" stroke="#20204a" stroke-width="1.0"/>
<circle cx="265.20" cy="498.80" r="2.15" fill="#a4a4da" stroke="#20204a" stroke-width="1.0"/>
<circle cx="263.30" cy="501.20" r="2.15" fill="#a4a4da" stroke="#20204a" stroke-width="1.0"/>
<circle cx="265.20" cy="503.10" r="2.15" fill="#a4a4da" stroke="#20204a" stroke-width="1.0"/>
<circle cx="262.30" cy="505.00" r="2.15" fill="#a4a4da" stroke="#20204a" stroke-width="1.0"/>
<text x="227.10" y="528.70" font-size="7.4" text-anchor="middle" fill="#333" >+</text>
<text x="227.10" y="538.70" font-size="7.4" text-anchor="middle" fill="#333" >+</text>
<text x="236.20" y="528.70" font-size="7.4" text-anchor="middle" fill="#333" >−</text>
<text x="236.20" y="538.70" font-size="7.4" text-anchor="middle" fill="#333" >+</text>
<text x="245.30" y="528.70" font-size="7.4" text-anchor="middle" fill="#333" >+</text>
<text x="245.30" y="538.70" font-size="7.4" text-anchor="middle" fill="#333" >−</text>
<text x="254.40" y="528.70" font-size="7.4" text-anchor="middle" fill="#333" >−</text>
<text x="254.40" y="538.70" font-size="7.4" text-anchor="middle" fill="#333" >−</text>
<text x="266.40" y="543.5" font-size="6.5" fill="#111" font-style="italic" textLength="14.2" lengthAdjust="spacingAndGlyphs" transform="rotate(-90 266.40 543.5)">Stat1</text>
<text x="264.20" y="528.4" font-size="3.8" fill="#777" transform="rotate(-90 264.20 528.4)">−/−</text>
<text x="214.90" y="528.70" font-size="6.4" text-anchor="end" fill="#333" textLength="15.0" lengthAdjust="spacingAndGlyphs" font-style="italic" >Ifnar1</text>
<text x="214.90" y="538.70" font-size="6.4" text-anchor="end" fill="#333" textLength="15.0" lengthAdjust="spacingAndGlyphs" font-style="italic" >Ifngr1</text>
<text x="326.60" y="430.10" font-size="8.6" text-anchor="middle" fill="#111" >Pre-B</text>
<line x1="302.30" y1="482.30" x2="302.30" y2="517.20" stroke="#000" stroke-width="1.25" />
<line x1="299.10" y1="516.60" x2="349.00" y2="516.60" stroke="#000" stroke-width="1.25" />
<line x1="299.10" y1="484.80" x2="302.30" y2="484.80" stroke="#000" stroke-width="1.0" />
<text x="295.90" y="486.90" font-size="6.5" text-anchor="end" fill="#222">1×10<tspan font-size="3.8" dy="-2.4" fill="#666">7</tspan></text>
<line x1="299.10" y1="495.40" x2="302.30" y2="495.40" stroke="#000" stroke-width="1.0" />
<text x="295.90" y="497.50" font-size="6.5" text-anchor="end" fill="#222">1×10<tspan font-size="3.8" dy="-2.4" fill="#666">6</tspan></text>
<line x1="299.10" y1="506.10" x2="302.30" y2="506.10" stroke="#000" stroke-width="1.0" />
<text x="295.90" y="508.20" font-size="6.5" text-anchor="end" fill="#222">1×10<tspan font-size="3.8" dy="-2.4" fill="#666">5</tspan></text>
<line x1="299.10" y1="516.60" x2="302.30" y2="516.60" stroke="#000" stroke-width="1.0" />
<text x="295.90" y="518.70" font-size="6.5" text-anchor="end" fill="#222">1×10<tspan font-size="3.8" dy="-2.4" fill="#666">4</tspan></text>
<line x1="308.30" y1="516.60" x2="308.30" y2="519.40" stroke="#000" stroke-width="1.0" />
<line x1="317.30" y1="516.60" x2="317.30" y2="519.40" stroke="#000" stroke-width="1.0" />
<line x1="326.40" y1="516.60" x2="326.40" y2="519.40" stroke="#000" stroke-width="1.0" />
<line x1="335.50" y1="516.60" x2="335.50" y2="519.40" stroke="#000" stroke-width="1.0" />
<line x1="344.50" y1="516.60" x2="344.50" y2="519.40" stroke="#000" stroke-width="1.0" />
<path d="M308.30,453.70 V443.10 H344.50 V493.90" stroke="#555" stroke-width="1.1" fill="none" />
<text x="326.80" y="439.60" font-size="7.0" text-anchor="middle" fill="#444" >ns</text>
<path d="M308.30,466.70 V458.20 H335.50 V499.50" stroke="#555" stroke-width="1.1" fill="none" />
<text x="322.20" y="454.80" font-size="7.0" text-anchor="middle" fill="#444" >ns</text>
<path d="M308.30,476.60 V471.60 H326.40 V490.20" stroke="#555" stroke-width="1.1" fill="none" />
<text x="317.60" y="468.00" font-size="7.0" text-anchor="middle" fill="#444" >ns</text>
<path d="M308.30,492.60 V487.40 H317.30 V492.60" stroke="#555" stroke-width="1.1" fill="none" />
<text x="312.90" y="483.90" font-size="7.0" text-anchor="middle" fill="#444" >ns</text>
<circle cx="308.70" cy="496.80" r="2.15" fill="#245a92" stroke="#0a1e36" stroke-width="1.0"/>
<circle cx="307.20" cy="499.20" r="2.15" fill="#245a92" stroke="#0a1e36" stroke-width="1.0"/>
<circle cx="309.60" cy="500.20" r="2.15" fill="#245a92" stroke="#0a1e36" stroke-width="1.0"/>
<circle cx="308.20" cy="501.60" r="2.15" fill="#245a92" stroke="#0a1e36" stroke-width="1.0"/>
<circle cx="308.70" cy="506.90" r="2.15" fill="#245a92" stroke="#0a1e36" stroke-width="1.0"/>
<circle cx="317.30" cy="495.90" r="2.15" fill="#f5c940" stroke="#3a2c06" stroke-width="1.0"/>
<circle cx="316.30" cy="498.30" r="2.15" fill="#f5c940" stroke="#3a2c06" stroke-width="1.0"/>
<circle cx="318.30" cy="499.70" r="2.15" fill="#f5c940" stroke="#3a2c06" stroke-width="1.0"/>
<circle cx="316.80" cy="501.60" r="2.15" fill="#f5c940" stroke="#3a2c06" stroke-width="1.0"/>
<circle cx="317.80" cy="503.60" r="2.15" fill="#f5c940" stroke="#3a2c06" stroke-width="1.0"/>
<circle cx="316.80" cy="504.00" r="2.15" fill="#f5c940" stroke="#3a2c06" stroke-width="1.0"/>
<circle cx="327.90" cy="493.50" r="2.15" fill="#cf8a4c" stroke="#3a1e08" stroke-width="1.0"/>
<circle cx="326.00" cy="495.90" r="2.15" fill="#cf8a4c" stroke="#3a1e08" stroke-width="1.0"/>
<circle cx="328.40" cy="497.80" r="2.15" fill="#cf8a4c" stroke="#3a1e08" stroke-width="1.0"/>
<circle cx="326.40" cy="499.20" r="2.15" fill="#cf8a4c" stroke="#3a1e08" stroke-width="1.0"/>
<circle cx="327.90" cy="500.70" r="2.15" fill="#cf8a4c" stroke="#3a1e08" stroke-width="1.0"/>
<circle cx="326.90" cy="503.60" r="2.15" fill="#cf8a4c" stroke="#3a1e08" stroke-width="1.0"/>
<circle cx="335.60" cy="499.70" r="2.15" fill="#4cb05a" stroke="#0a2e10" stroke-width="1.0"/>
<circle cx="334.10" cy="501.60" r="2.15" fill="#4cb05a" stroke="#0a2e10" stroke-width="1.0"/>
<circle cx="337.00" cy="502.10" r="2.15" fill="#4cb05a" stroke="#0a2e10" stroke-width="1.0"/>
<circle cx="335.10" cy="505.50" r="2.15" fill="#4cb05a" stroke="#0a2e10" stroke-width="1.0"/>
<circle cx="345.20" cy="497.30" r="2.15" fill="#a4a4da" stroke="#20204a" stroke-width="1.0"/>
<circle cx="343.80" cy="499.20" r="2.15" fill="#a4a4da" stroke="#20204a" stroke-width="1.0"/>
<circle cx="346.20" cy="500.70" r="2.15" fill="#a4a4da" stroke="#20204a" stroke-width="1.0"/>
<circle cx="344.70" cy="502.60" r="2.15" fill="#a4a4da" stroke="#20204a" stroke-width="1.0"/>
<circle cx="344.70" cy="508.40" r="2.15" fill="#a4a4da" stroke="#20204a" stroke-width="1.0"/>
<text x="308.30" y="528.70" font-size="7.4" text-anchor="middle" fill="#333" >+</text>
<text x="308.30" y="538.70" font-size="7.4" text-anchor="middle" fill="#333" >+</text>
<text x="317.30" y="528.70" font-size="7.4" text-anchor="middle" fill="#333" >−</text>
<text x="317.30" y="538.70" font-size="7.4" text-anchor="middle" fill="#333" >+</text>
<text x="326.40" y="528.70" font-size="7.4" text-anchor="middle" fill="#333" >+</text>
<text x="326.40" y="538.70" font-size="7.4" text-anchor="middle" fill="#333" >−</text>
<text x="335.50" y="528.70" font-size="7.4" text-anchor="middle" fill="#333" >−</text>
<text x="335.50" y="538.70" font-size="7.4" text-anchor="middle" fill="#333" >−</text>
<text x="347.40" y="543.5" font-size="6.5" fill="#111" font-style="italic" textLength="14.2" lengthAdjust="spacingAndGlyphs" transform="rotate(-90 347.40 543.5)">Stat1</text>
<text x="345.20" y="528.4" font-size="3.8" fill="#777" transform="rotate(-90 345.20 528.4)">−/−</text>
<text x="295.90" y="528.70" font-size="6.4" text-anchor="end" fill="#333" textLength="15.0" lengthAdjust="spacingAndGlyphs" font-style="italic" >Ifnar1</text>
<text x="295.90" y="538.70" font-size="6.4" text-anchor="end" fill="#333" textLength="15.0" lengthAdjust="spacingAndGlyphs" font-style="italic" >Ifngr1</text>
<text x="407.30" y="430.10" font-size="8.6" text-anchor="middle" fill="#111" >Immature B</text>
<line x1="383.50" y1="482.30" x2="383.50" y2="517.20" stroke="#000" stroke-width="1.25" />
<line x1="380.30" y1="516.60" x2="430.50" y2="516.60" stroke="#000" stroke-width="1.25" />
<line x1="380.30" y1="484.80" x2="383.50" y2="484.80" stroke="#000" stroke-width="1.0" />
<text x="377.10" y="486.90" font-size="6.5" text-anchor="end" fill="#222">1×10<tspan font-size="3.8" dy="-2.4" fill="#666">6</tspan></text>
<line x1="380.30" y1="501.00" x2="383.50" y2="501.00" stroke="#000" stroke-width="1.0" />
<text x="377.10" y="503.10" font-size="6.5" text-anchor="end" fill="#222">1×10<tspan font-size="3.8" dy="-2.4" fill="#666">5</tspan></text>
<line x1="380.30" y1="516.60" x2="383.50" y2="516.60" stroke="#000" stroke-width="1.0" />
<text x="377.10" y="518.70" font-size="6.5" text-anchor="end" fill="#222">1×10<tspan font-size="3.8" dy="-2.4" fill="#666">4</tspan></text>
<line x1="389.60" y1="516.60" x2="389.60" y2="519.40" stroke="#000" stroke-width="1.0" />
<line x1="398.90" y1="516.60" x2="398.90" y2="519.40" stroke="#000" stroke-width="1.0" />
<line x1="408.10" y1="516.60" x2="408.10" y2="519.40" stroke="#000" stroke-width="1.0" />
<line x1="417.20" y1="516.60" x2="417.20" y2="519.40" stroke="#000" stroke-width="1.0" />
<line x1="425.90" y1="516.60" x2="425.90" y2="519.40" stroke="#000" stroke-width="1.0" />
<path d="M389.60,450.90 V443.50 H425.90 V486.80" stroke="#555" stroke-width="1.1" fill="none" />
<text x="408.10" y="439.70" font-size="7.0" text-anchor="middle" fill="#444" >ns</text>
<path d="M389.60,463.90 V455.80 H417.20 V490.50" stroke="#555" stroke-width="1.1" fill="none" />
<text x="403.60" y="452.30" font-size="7.0" text-anchor="middle" fill="#444" >ns</text>
<path d="M389.60,471.30 V468.50 H408.10 V484.90" stroke="#555" stroke-width="1.1" fill="none" />
<text x="399.10" y="465.30" font-size="7.0" text-anchor="middle" fill="#444" >ns</text>
<path d="M389.60,485.50 V482.50 H398.90 V489.30" stroke="#555" stroke-width="1.1" fill="none" />
<text x="393.90" y="478.90" font-size="7.0" text-anchor="middle" fill="#444" >ns</text>
<circle cx="389.50" cy="489.80" r="2.15" fill="#245a92" stroke="#0a1e36" stroke-width="1.0"/>
<circle cx="391.00" cy="496.00" r="2.15" fill="#245a92" stroke="#0a1e36" stroke-width="1.0"/>
<circle cx="389.00" cy="497.00" r="2.15" fill="#245a92" stroke="#0a1e36" stroke-width="1.0"/>
<circle cx="388.00" cy="499.00" r="2.15" fill="#245a92" stroke="#0a1e36" stroke-width="1.0"/>
<circle cx="390.00" cy="498.50" r="2.15" fill="#245a92" stroke="#0a1e36" stroke-width="1.0"/>
<circle cx="389.50" cy="507.80" r="2.15" fill="#245a92" stroke="#0a1e36" stroke-width="1.0"/>
<circle cx="398.50" cy="493.00" r="2.15" fill="#f5c940" stroke="#3a2c06" stroke-width="1.0"/>
<circle cx="398.00" cy="496.50" r="2.15" fill="#f5c940" stroke="#3a2c06" stroke-width="1.0"/>
<circle cx="399.50" cy="498.00" r="2.15" fill="#f5c940" stroke="#3a2c06" stroke-width="1.0"/>
<circle cx="398.50" cy="499.50" r="2.15" fill="#f5c940" stroke="#3a2c06" stroke-width="1.0"/>
<circle cx="397.50" cy="501.50" r="2.15" fill="#f5c940" stroke="#3a2c06" stroke-width="1.0"/>
<circle cx="399.00" cy="501.00" r="2.15" fill="#f5c940" stroke="#3a2c06" stroke-width="1.0"/>
<circle cx="406.50" cy="489.00" r="2.15" fill="#cf8a4c" stroke="#3a1e08" stroke-width="1.0"/>
<circle cx="409.50" cy="489.00" r="2.15" fill="#cf8a4c" stroke="#3a1e08" stroke-width="1.0"/>
<circle cx="406.50" cy="493.50" r="2.15" fill="#cf8a4c" stroke="#3a1e08" stroke-width="1.0"/>
<circle cx="409.50" cy="493.00" r="2.15" fill="#cf8a4c" stroke="#3a1e08" stroke-width="1.0"/>
<circle cx="407.50" cy="499.00" r="2.15" fill="#cf8a4c" stroke="#3a1e08" stroke-width="1.0"/>
<circle cx="408.00" cy="504.00" r="2.15" fill="#cf8a4c" stroke="#3a1e08" stroke-width="1.0"/>
<circle cx="417.00" cy="495.00" r="2.15" fill="#4cb05a" stroke="#0a2e10" stroke-width="1.0"/>
<circle cx="416.50" cy="497.50" r="2.15" fill="#4cb05a" stroke="#0a2e10" stroke-width="1.0"/>
<circle cx="417.50" cy="501.00" r="2.15" fill="#4cb05a" stroke="#0a2e10" stroke-width="1.0"/>
<circle cx="416.50" cy="504.50" r="2.15" fill="#4cb05a" stroke="#0a2e10" stroke-width="1.0"/>
<circle cx="426.00" cy="489.50" r="2.15" fill="#a4a4da" stroke="#20204a" stroke-width="1.0"/>
<circle cx="424.00" cy="497.50" r="2.15" fill="#a4a4da" stroke="#20204a" stroke-width="1.0"/>
<circle cx="427.00" cy="498.50" r="2.15" fill="#a4a4da" stroke="#20204a" stroke-width="1.0"/>
<circle cx="425.50" cy="501.50" r="2.15" fill="#a4a4da" stroke="#20204a" stroke-width="1.0"/>
<circle cx="427.00" cy="504.00" r="2.15" fill="#a4a4da" stroke="#20204a" stroke-width="1.0"/>
<circle cx="425.00" cy="506.00" r="2.15" fill="#a4a4da" stroke="#20204a" stroke-width="1.0"/>
<text x="389.60" y="528.70" font-size="7.4" text-anchor="middle" fill="#333" >+</text>
<text x="389.60" y="538.70" font-size="7.4" text-anchor="middle" fill="#333" >+</text>
<text x="398.90" y="528.70" font-size="7.4" text-anchor="middle" fill="#333" >−</text>
<text x="398.90" y="538.70" font-size="7.4" text-anchor="middle" fill="#333" >+</text>
<text x="408.10" y="528.70" font-size="7.4" text-anchor="middle" fill="#333" >+</text>
<text x="408.10" y="538.70" font-size="7.4" text-anchor="middle" fill="#333" >−</text>
<text x="417.20" y="528.70" font-size="7.4" text-anchor="middle" fill="#333" >−</text>
<text x="417.20" y="538.70" font-size="7.4" text-anchor="middle" fill="#333" >−</text>
<text x="428.80" y="543.5" font-size="6.5" fill="#111" font-style="italic" textLength="14.2" lengthAdjust="spacingAndGlyphs" transform="rotate(-90 428.80 543.5)">Stat1</text>
<text x="426.60" y="528.4" font-size="3.8" fill="#777" transform="rotate(-90 426.60 528.4)">−/−</text>
<text x="377.10" y="528.70" font-size="6.4" text-anchor="end" fill="#333" textLength="15.0" lengthAdjust="spacingAndGlyphs" font-style="italic" >Ifnar1</text>
<text x="377.10" y="538.70" font-size="6.4" text-anchor="end" fill="#333" textLength="15.0" lengthAdjust="spacingAndGlyphs" font-style="italic" >Ifngr1</text>
<text x="489.00" y="430.10" font-size="8.6" text-anchor="middle" fill="#111" >Mature B</text>
<line x1="464.90" y1="482.30" x2="464.90" y2="517.20" stroke="#000" stroke-width="1.25" />
<line x1="461.70" y1="516.60" x2="512.00" y2="516.60" stroke="#000" stroke-width="1.25" />
<line x1="461.70" y1="484.80" x2="464.90" y2="484.80" stroke="#000" stroke-width="1.0" />
<text x="458.50" y="486.90" font-size="6.5" text-anchor="end" fill="#222">1×10<tspan font-size="3.8" dy="-2.4" fill="#666">6</tspan></text>
<line x1="461.70" y1="501.00" x2="464.90" y2="501.00" stroke="#000" stroke-width="1.0" />
<text x="458.50" y="503.10" font-size="6.5" text-anchor="end" fill="#222">1×10<tspan font-size="3.8" dy="-2.4" fill="#666">5</tspan></text>
<line x1="461.70" y1="516.60" x2="464.90" y2="516.60" stroke="#000" stroke-width="1.0" />
<text x="458.50" y="518.70" font-size="6.5" text-anchor="end" fill="#222">1×10<tspan font-size="3.8" dy="-2.4" fill="#666">4</tspan></text>
<line x1="470.60" y1="516.60" x2="470.60" y2="519.40" stroke="#000" stroke-width="1.0" />
<line x1="480.10" y1="516.60" x2="480.10" y2="519.40" stroke="#000" stroke-width="1.0" />
<line x1="489.10" y1="516.60" x2="489.10" y2="519.40" stroke="#000" stroke-width="1.0" />
<line x1="498.20" y1="516.60" x2="498.20" y2="519.40" stroke="#000" stroke-width="1.0" />
<line x1="507.10" y1="516.60" x2="507.10" y2="519.40" stroke="#000" stroke-width="1.0" />
<path d="M470.60,451.50 V444.10 H507.10 V489.30" stroke="#555" stroke-width="1.1" fill="none" />
<text x="489.50" y="440.50" font-size="7.0" text-anchor="middle" fill="#444" >ns</text>
<path d="M470.60,464.50 V456.70 H498.20 V490.50" stroke="#555" stroke-width="1.1" fill="none" />
<text x="484.60" y="453.30" font-size="7.0" text-anchor="middle" fill="#444" >ns</text>
<path d="M470.60,471.90 V468.80 H489.10 V483.10" stroke="#555" stroke-width="1.1" fill="none" />
<text x="480.10" y="465.60" font-size="7.0" text-anchor="middle" fill="#444" >ns</text>
<path d="M470.60,486.20 V483.70 H480.10 V493.60" stroke="#555" stroke-width="1.1" fill="none" />
<text x="475.50" y="479.80" font-size="7.0" text-anchor="middle" fill="#444" >ns</text>
<circle cx="471.00" cy="493.00" r="2.15" fill="#245a92" stroke="#0a1e36" stroke-width="1.0"/>
<circle cx="470.00" cy="499.50" r="2.15" fill="#245a92" stroke="#0a1e36" stroke-width="1.0"/>
<circle cx="472.00" cy="500.50" r="2.15" fill="#245a92" stroke="#0a1e36" stroke-width="1.0"/>
<circle cx="469.50" cy="502.50" r="2.15" fill="#245a92" stroke="#0a1e36" stroke-width="1.0"/>
<circle cx="472.50" cy="503.00" r="2.15" fill="#245a92" stroke="#0a1e36" stroke-width="1.0"/>
<circle cx="471.00" cy="505.00" r="2.15" fill="#245a92" stroke="#0a1e36" stroke-width="1.0"/>
<circle cx="471.00" cy="509.80" r="2.15" fill="#245a92" stroke="#0a1e36" stroke-width="1.0"/>
<circle cx="479.00" cy="497.00" r="2.15" fill="#f5c940" stroke="#3a2c06" stroke-width="1.0"/>
<circle cx="481.50" cy="500.50" r="2.15" fill="#f5c940" stroke="#3a2c06" stroke-width="1.0"/>
<circle cx="478.50" cy="502.00" r="2.15" fill="#f5c940" stroke="#3a2c06" stroke-width="1.0"/>
<circle cx="480.00" cy="504.00" r="2.15" fill="#f5c940" stroke="#3a2c06" stroke-width="1.0"/>
<circle cx="481.50" cy="506.00" r="2.15" fill="#f5c940" stroke="#3a2c06" stroke-width="1.0"/>
<circle cx="479.00" cy="507.50" r="2.15" fill="#f5c940" stroke="#3a2c06" stroke-width="1.0"/>
<circle cx="489.00" cy="486.50" r="2.15" fill="#cf8a4c" stroke="#3a1e08" stroke-width="1.0"/>
<circle cx="489.50" cy="494.00" r="2.15" fill="#cf8a4c" stroke="#3a1e08" stroke-width="1.0"/>
<circle cx="488.00" cy="496.00" r="2.15" fill="#cf8a4c" stroke="#3a1e08" stroke-width="1.0"/>
<circle cx="490.50" cy="498.00" r="2.15" fill="#cf8a4c" stroke="#3a1e08" stroke-width="1.0"/>
<circle cx="489.00" cy="501.00" r="2.15" fill="#cf8a4c" stroke="#3a1e08" stroke-width="1.0"/>
<circle cx="489.00" cy="510.00" r="2.15" fill="#cf8a4c" stroke="#3a1e08" stroke-width="1.0"/>
<circle cx="499.50" cy="495.50" r="2.15" fill="#4cb05a" stroke="#0a2e10" stroke-width="1.0"/>
<circle cx="497.00" cy="498.50" r="2.15" fill="#4cb05a" stroke="#0a2e10" stroke-width="1.0"/>
<circle cx="499.50" cy="501.00" r="2.15" fill="#4cb05a" stroke="#0a2e10" stroke-width="1.0"/>
<circle cx="497.00" cy="503.00" r="2.15" fill="#4cb05a" stroke="#0a2e10" stroke-width="1.0"/>
<circle cx="499.50" cy="506.50" r="2.15" fill="#4cb05a" stroke="#0a2e10" stroke-width="1.0"/>
<circle cx="497.00" cy="508.50" r="2.15" fill="#4cb05a" stroke="#0a2e10" stroke-width="1.0"/>
<circle cx="507.50" cy="493.50" r="2.15" fill="#a4a4da" stroke="#20204a" stroke-width="1.0"/>
<circle cx="506.00" cy="500.00" r="2.15" fill="#a4a4da" stroke="#20204a" stroke-width="1.0"/>
<circle cx="509.00" cy="500.50" r="2.15" fill="#a4a4da" stroke="#20204a" stroke-width="1.0"/>
<circle cx="507.50" cy="504.00" r="2.15" fill="#a4a4da" stroke="#20204a" stroke-width="1.0"/>
<circle cx="507.50" cy="507.00" r="2.15" fill="#a4a4da" stroke="#20204a" stroke-width="1.0"/>
<circle cx="507.00" cy="510.00" r="2.15" fill="#a4a4da" stroke="#20204a" stroke-width="1.0"/>
<text x="470.60" y="528.70" font-size="7.4" text-anchor="middle" fill="#333" >+</text>
<text x="470.60" y="538.70" font-size="7.4" text-anchor="middle" fill="#333" >+</text>
<text x="480.10" y="528.70" font-size="7.4" text-anchor="middle" fill="#333" >−</text>
<text x="480.10" y="538.70" font-size="7.4" text-anchor="middle" fill="#333" >+</text>
<text x="489.10" y="528.70" font-size="7.4" text-anchor="middle" fill="#333" >+</text>
<text x="489.10" y="538.70" font-size="7.4" text-anchor="middle" fill="#333" >−</text>
<text x="498.20" y="528.70" font-size="7.4" text-anchor="middle" fill="#333" >−</text>
<text x="498.20" y="538.70" font-size="7.4" text-anchor="middle" fill="#333" >−</text>
<text x="510.00" y="543.5" font-size="6.5" fill="#111" font-style="italic" textLength="14.2" lengthAdjust="spacingAndGlyphs" transform="rotate(-90 510.00 543.5)">Stat1</text>
<text x="507.80" y="528.4" font-size="3.8" fill="#777" transform="rotate(-90 507.80 528.4)">−/−</text>
<text x="458.50" y="528.70" font-size="6.4" text-anchor="end" fill="#333" textLength="15.0" lengthAdjust="spacingAndGlyphs" font-style="italic" >Ifnar1</text>
<text x="458.50" y="538.70" font-size="6.4" text-anchor="end" fill="#333" textLength="15.0" lengthAdjust="spacingAndGlyphs" font-style="italic" >Ifngr1</text>
<text x="0" y="0" font-size="8" font-weight="bold" fill="#222" text-anchor="middle" transform="translate(30.2 499.8) rotate(-90) scale(0.68 1)">Cells per femur</text>
<rect x="0.5" y="0.5" width="519" height="549" fill="none" stroke="#4a4a4a" stroke-width="1"/>
</svg>
</body></html>
